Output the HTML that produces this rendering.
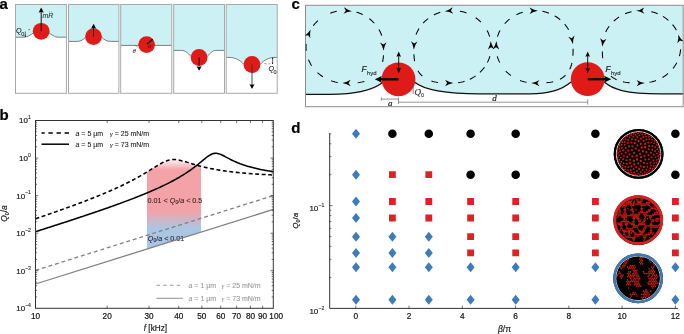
<!DOCTYPE html>
<html><head><meta charset="utf-8"><style>
html,body{margin:0;padding:0;background:#fff;width:684px;height:334px;overflow:hidden}
svg{display:block;will-change:transform}
text{font-family:"Liberation Sans", sans-serif}
</style></head><body>
<svg width="684" height="334" viewBox="0 0 684 334">
<rect width="684" height="334" fill="#fff"/>
<text x="-0.60" y="8.90" font-size="15.00" fill="#000" font-weight="bold" stroke="#000" stroke-width="0.20">a</text>
<path d="M15.5,37.2 L24,37.2 C28,37.2 31,34.5 33.5,32.8 L49,32.8 C51.5,34.5 54.5,37.2 58,37.2 L66.3,37.2 L66.4,4.5 L15.5,4.5 Z" fill="#ccf1f4"/>
<path d="M15.5,37.2 L24,37.2 C28,37.2 31,34.5 33.5,32.8 L49,32.8 C51.5,34.5 54.5,37.2 58,37.2 L66.3,37.2" fill="none" stroke="#555" stroke-width="0.75"/>
<rect x="15.5" y="4.5" width="50.9" height="88.8" fill="none" stroke="#a8a8a8" stroke-width="1.0"/>
<circle cx="41.2" cy="31.3" r="8.4" fill="#e01b17"/>
<path d="M68.5,41.4 L77,41.4 C80.5,41.4 83,40 85.7,37.2 L101.7,37.2 C104.4,40 107,41.4 110.5,41.4 L118.9,41.4 L118.9,4.5 L68.5,4.5 Z" fill="#ccf1f4"/>
<path d="M68.5,41.4 L77,41.4 C80.5,41.4 83,40 85.7,37.2 L101.7,37.2 C104.4,40 107,41.4 110.5,41.4 L118.9,41.4" fill="none" stroke="#555" stroke-width="0.75"/>
<rect x="68.5" y="4.5" width="50.4" height="88.8" fill="none" stroke="#a8a8a8" stroke-width="1.0"/>
<circle cx="93.5" cy="36.6" r="8.4" fill="#e01b17"/>
<path d="M120.8,45.4 L171.8,45.4 L171.8,4.5 L120.7,4.5 Z" fill="#ccf1f4"/>
<path d="M120.8,45.4 L171.8,45.4" fill="none" stroke="#555" stroke-width="0.75"/>
<rect x="120.7" y="4.5" width="51.1" height="88.8" fill="none" stroke="#a8a8a8" stroke-width="1.0"/>
<circle cx="146.6" cy="44.6" r="8.4" fill="#e01b17"/>
<path d="M173.7,50.4 L181.7,50.4 C185,50.4 188,53 191,56.5 L207.3,56.5 C210.3,53 213,50.4 215.5,50.4 L224.4,50.4 L224.5,4.5 L173.7,4.5 Z" fill="#ccf1f4"/>
<path d="M173.7,50.4 L181.7,50.4 C185,50.4 188,53 191,56.5 L207.3,56.5 C210.3,53 213,50.4 215.5,50.4 L224.4,50.4" fill="none" stroke="#555" stroke-width="0.75"/>
<rect x="173.7" y="4.5" width="50.8" height="88.8" fill="none" stroke="#a8a8a8" stroke-width="1.0"/>
<circle cx="199.1" cy="57.5" r="8.4" fill="#e01b17"/>
<path d="M226.1,57.4 L229,57.4 C235,57.4 240,60 244,64.5 L260,64.5 C264,60 269,57.4 275,57.4 L277.1,57.4 L277.2,4.5 L226.2,4.5 Z" fill="#ccf1f4"/>
<path d="M226.1,57.4 L229,57.4 C235,57.4 240,60 244,64.5 L260,64.5 C264,60 269,57.4 275,57.4 L277.1,57.4" fill="none" stroke="#555" stroke-width="0.75"/>
<rect x="226.2" y="4.5" width="51.0" height="88.8" fill="none" stroke="#a8a8a8" stroke-width="1.0"/>
<circle cx="252.0" cy="64.5" r="8.4" fill="#e01b17"/>
<line x1="41.2" y1="31.3" x2="41.2" y2="11" stroke="#111" stroke-width="1"/>
<path d="M41.20,7.40L43.70,12.60L41.20,12.08L38.70,12.60Z" fill="#000"/>
<text x="42.50" y="18.00" font-size="7.00" fill="#333" font-style="italic" stroke="#333" stroke-width="0.10">mR</text>
<circle cx="49.6" cy="11.9" r="0.45" fill="#333"/><circle cx="51.3" cy="11.9" r="0.45" fill="#333"/>
<text x="15.90" y="32.90" font-size="7.20" fill="#222" font-style="italic" stroke="#222" stroke-width="0.10">Q</text>
<text x="21.20" y="36.30" font-size="5.50" fill="#222"  stroke="#222" stroke-width="0.10">0</text>
<line x1="25.3" y1="31.5" x2="25.3" y2="36.8" stroke="#222" stroke-width="0.7"/>
<path d="M25.30,37.00L24.40,35.20L25.30,35.74L26.20,35.20Z" fill="#000"/>
<line x1="28.3" y1="29.6" x2="30" y2="29.6" stroke="#333" stroke-width="0.6"/>
<line x1="93.5" y1="36.6" x2="93.5" y2="27" stroke="#111" stroke-width="1"/>
<path d="M93.60,23.80L96.10,28.40L93.60,27.94L91.10,28.40Z" fill="#000"/>
<line x1="146.8" y1="44.3" x2="152.6" y2="39.2" stroke="#111" stroke-width="1.4"/>
<text x="148.00" y="48.00" font-size="6.80" fill="#222" font-style="italic" style="font-family:'Liberation Serif',serif" stroke="#222" stroke-width="0.10">a</text>
<text x="132.40" y="53.40" font-size="7.00" fill="#444" font-style="italic" style="font-family:'Liberation Serif',serif" stroke="#444" stroke-width="0.10">θ</text>
<path d="M135,45.4 Q137,45.8 137.6,47.4" fill="none" stroke="#555" stroke-width="0.5"/>
<line x1="199.1" y1="57.5" x2="199.1" y2="66" stroke="#111" stroke-width="1"/>
<path d="M199.10,70.80L196.60,66.20L199.10,66.66L201.60,66.20Z" fill="#000"/>
<line x1="252" y1="64.5" x2="252" y2="85" stroke="#333" stroke-width="0.9"/>
<path d="M252.00,89.00L249.50,84.20L252.00,84.68L254.50,84.20Z" fill="#000"/>
<text x="268.40" y="71.10" font-size="7.20" fill="#222" font-style="italic" stroke="#222" stroke-width="0.10">Q</text>
<text x="273.40" y="74.00" font-size="5.50" fill="#222"  stroke="#222" stroke-width="0.10">0</text>
<line x1="272.6" y1="57.6" x2="272.6" y2="63.8" stroke="#222" stroke-width="0.7"/>
<path d="M272.60,57.60L273.50,59.40L272.60,58.86L271.70,59.40Z" fill="#000"/>
<line x1="264.2" y1="63.7" x2="266.5" y2="63.7" stroke="#555" stroke-width="0.6"/><line x1="268.6" y1="63.8" x2="270.2" y2="63.8" stroke="#555" stroke-width="0.6"/>
<path d="M272.60,64.20L271.70,62.40L272.60,62.94L273.50,62.40Z" fill="#000"/>
<text x="291.40" y="8.70" font-size="15.00" fill="#000" font-weight="bold" stroke="#000" stroke-width="0.20">c</text>
<path d="M305.5,94.4 L330,94.4 C355,94.4 373,90 382.6,82.5 L414.4,82 C424,90 445,93.8 480,93.8 L530,93.8 C552,93.8 563,89 571,82 L604.4,82 C612,89 625,93.8 660,93.8 L683.2,93.8 L683.2,5.3 L305.5,5.3 Z" fill="#ccf1f4"/>
<path d="M305.5,94.4 L330,94.4 C355,94.4 373,90 382.6,82.5 M414.4,82 C424,90 445,93.8 480,93.8 L530,93.8 C552,93.8 563,89 571,82 M604.4,82 C612,89 625,93.8 660,93.8 L683.2,93.8" fill="none" stroke="#111" stroke-width="1.25"/>
<rect x="305.5" y="5.3" width="377.7" height="101.4" fill="none" stroke="#8c8c8c" stroke-width="1"/>
<clipPath id="cclip"><rect x="305.5" y="5.3" width="377.7" height="101.4"/></clipPath>
<g clip-path="url(#cclip)">
<path d="M383.43,55.27 L383.34,56.63 L383.22,57.98 L383.06,59.34 L382.86,60.68 L382.62,62.02M364.35,81.48 L363.03,81.80 L361.70,82.07 L360.36,82.30 L359.01,82.50 L357.66,82.65M337.80,82.50 L336.46,82.25 L335.13,81.96 L333.82,81.61 L332.51,81.23 L331.22,80.80M322.94,76.79 L321.80,76.04 L320.70,75.25 L319.62,74.42 L318.57,73.55 L317.56,72.65M311.62,65.62 L310.90,64.46 L310.23,63.28 L309.60,62.07 L309.02,60.84 L308.49,59.59M306.22,50.68 L306.09,49.33 L306.02,47.97 L306.00,46.61 L306.04,45.25 L306.12,43.89M313.30,25.61 L314.15,24.55 L315.03,23.51 L315.96,22.52 L316.92,21.56 L317.91,20.63M330.25,13.15 L331.53,12.69 L332.82,12.27 L334.13,11.90 L335.45,11.57 L336.78,11.28M356.48,12.18 L357.78,12.59 L359.06,13.04 L360.33,13.53 L361.58,14.07 L362.81,14.65M369.32,18.67 L370.38,19.51 L371.42,20.39 L372.42,21.31 L373.39,22.26 L374.33,23.25M378.86,29.41 L379.52,30.60 L380.14,31.81 L380.71,33.05 L381.23,34.30 L381.70,35.58" fill="none" stroke="#000" stroke-width="1.05"/><path d="M383.58,50.68Q382.67,46.14 380.11,42.49L383.38,44.45L386.51,42.28Q384.20,46.09 383.58,50.68Z" fill="#000"/><path d="M342.36,83.03Q346.93,82.28 350.68,79.86L348.59,83.05L350.65,86.26Q346.93,83.81 342.36,83.03Z" fill="#000"/><path d="M310.73,29.42Q309.62,33.92 310.36,38.31L308.25,35.13L304.49,35.76Q308.21,33.30 310.73,29.42Z" fill="#000"/><path d="M352.00,11.13Q347.39,11.56 343.49,13.70L345.80,10.67L343.97,7.32Q347.51,10.03 352.00,11.13Z" fill="#000"/>
<path d="M438.09,82.46 L436.75,82.27 L435.41,82.03 L434.08,81.75 L432.76,81.42 L431.45,81.04M422.33,76.10 L421.33,75.18 L420.40,74.19 L419.53,73.14 L418.74,72.04 L418.01,70.89M414.60,61.07 L414.39,59.72 L414.22,58.37 L414.09,57.02 L413.99,55.67 L413.91,54.31M416.03,34.67 L416.53,33.41 L417.08,32.16 L417.69,30.94 L418.33,29.75 L419.03,28.58M423.16,23.13 L424.09,22.15 L425.07,21.20 L426.07,20.28 L427.11,19.40 L428.18,18.56M433.97,14.93 L435.19,14.33 L436.43,13.78 L437.69,13.26 L438.97,12.79 L440.26,12.36M459.94,11.18 L461.27,11.45 L462.60,11.76 L463.91,12.11 L465.21,12.51 L466.50,12.96M475.67,17.72 L476.77,18.52 L477.84,19.36 L478.88,20.24 L479.89,21.15 L480.86,22.10M487.02,30.39 L487.64,31.60 L488.22,32.83 L488.75,34.09 L489.23,35.36 L489.66,36.65M489.86,56.28 L489.45,57.58 L489.00,58.86 L488.50,60.12 L487.95,61.37 L487.35,62.59M484.44,67.30 L483.62,68.38 L482.75,69.44 L481.85,70.46 L480.92,71.44 L479.94,72.39M475.65,75.89 L474.52,76.65 L473.37,77.37 L472.19,78.05 L470.99,78.69 L469.77,79.29M464.60,81.28 L463.29,81.66 L461.97,82.00 L460.64,82.29 L459.31,82.53 L457.96,82.74" fill="none" stroke="#000" stroke-width="1.05"/><path d="M453.38,83.09Q448.81,83.82 445.05,86.21L447.15,83.03L445.11,79.81Q448.82,82.28 453.38,83.09Z" fill="#000"/><path d="M413.81,49.71Q413.27,45.11 411.03,41.26L414.12,43.49L417.42,41.58Q414.80,45.19 413.81,49.71Z" fill="#000"/><path d="M444.72,11.24Q449.20,10.07 452.70,7.31L450.92,10.69L453.27,13.69Q449.33,11.60 444.72,11.24Z" fill="#000"/><path d="M490.72,41.12Q491.70,45.65 494.30,49.27L491.01,47.34L487.91,49.56Q490.16,45.72 490.72,41.12Z" fill="#000"/>
<path d="M526.58,82.33 L525.25,82.04 L523.93,81.71 L522.63,81.34 L521.33,80.92 L520.05,80.46M510.90,75.52 L509.81,74.70 L508.75,73.85 L507.73,72.95 L506.74,72.02 L505.78,71.05M499.74,62.59 L499.15,61.37 L498.59,60.13 L498.09,58.86 L497.64,57.58 L497.24,56.28M497.44,36.65 L497.87,35.36 L498.35,34.09 L498.87,32.83 L499.45,31.60 L500.07,30.39M504.68,23.75 L505.59,22.75 L506.54,21.77 L507.53,20.83 L508.54,19.93 L509.59,19.07M516.41,14.73 L517.64,14.15 L518.89,13.60 L520.15,13.10 L521.43,12.64 L522.73,12.23M542.42,11.27 L543.75,11.56 L545.07,11.89 L546.37,12.26 L547.67,12.68 L548.95,13.14M554.65,15.84 L555.82,16.54 L556.96,17.28 L558.07,18.05 L559.16,18.87 L560.22,19.73M564.69,24.18 L565.55,25.23 L566.37,26.31 L567.14,27.43 L567.88,28.57 L568.57,29.74M573.10,48.87 L573.09,50.23 L573.07,51.59 L573.04,52.94 L572.99,54.30 L572.91,55.66M571.94,62.91 L571.62,64.23 L571.24,65.54 L570.81,66.82 L570.31,68.09 L569.74,69.32M565.51,75.25 L564.51,76.18 L563.46,77.03 L562.35,77.82 L561.20,78.55 L560.01,79.20M553.14,81.68 L551.82,81.97 L550.48,82.22 L549.13,82.43 L547.78,82.60 L546.43,82.74" fill="none" stroke="#000" stroke-width="1.05"/><path d="M531.14,82.96Q535.71,82.26 539.48,79.88L537.36,83.05L539.39,86.27Q535.69,83.79 531.14,82.96Z" fill="#000"/><path d="M496.38,41.12Q496.93,45.72 499.19,49.56L496.09,47.34L492.80,49.27Q495.40,45.65 496.38,41.12Z" fill="#000"/><path d="M537.86,10.64Q533.31,11.49 529.63,14.00L531.64,10.76L529.50,7.60Q533.29,9.96 537.86,10.64Z" fill="#000"/><path d="M573.01,44.27Q571.37,39.94 568.26,36.75L571.80,38.16L574.54,35.50Q572.87,39.64 573.01,44.27Z" fill="#000"/>
<path d="M629.62,82.76 L628.27,82.63 L626.92,82.47 L625.57,82.27 L624.23,82.03 L622.90,81.76M616.58,79.68 L615.36,79.08 L614.17,78.42 L613.02,77.70 L611.92,76.90 L610.87,76.04M602.71,58.19 L602.58,56.83 L602.48,55.48 L602.41,54.12 L602.36,52.76 L602.33,51.40M605.70,32.01 L606.32,30.79 L606.98,29.60 L607.68,28.44 L608.43,27.31 L609.22,26.20M613.74,21.17 L614.75,20.26 L615.80,19.39 L616.87,18.56 L617.98,17.76 L619.11,17.01M625.08,13.84 L626.34,13.33 L627.61,12.85 L628.90,12.42 L630.21,12.04 L631.52,11.70M651.25,11.64 L652.57,11.98 L653.87,12.36 L655.17,12.78 L656.45,13.24 L657.71,13.75M662.95,16.41 L664.10,17.14 L665.22,17.90 L666.32,18.70 L667.39,19.54 L668.43,20.42M672.54,24.63 L673.39,25.69 L674.20,26.78 L674.97,27.90 L675.69,29.05 L676.38,30.23M680.60,49.39 L680.47,50.75 L680.28,52.10 L680.04,53.43 L679.75,54.76 L679.40,56.08M676.73,62.72 L676.07,63.91 L675.37,65.07 L674.63,66.21 L673.84,67.32 L673.01,68.39M668.02,73.53 L666.97,74.39 L665.89,75.22 L664.78,76.00 L663.65,76.75 L662.49,77.46M656.02,80.52 L654.73,80.97 L653.43,81.38 L652.12,81.74 L650.80,82.06 L649.47,82.34" fill="none" stroke="#000" stroke-width="1.05"/><path d="M644.92,82.96Q640.36,83.79 636.66,86.28L638.69,83.05L636.57,79.88Q640.34,82.26 644.92,82.96Z" fill="#000"/><path d="M602.30,46.80Q602.10,42.18 600.14,38.17L603.06,40.62L606.50,38.96Q603.62,42.36 602.30,46.80Z" fill="#000"/><path d="M636.04,10.85Q640.58,9.94 644.24,7.40L642.27,10.66L644.44,13.79Q640.63,11.48 636.04,10.85Z" fill="#000"/><path d="M678.34,34.38Q680.22,38.61 683.51,41.62L679.90,40.41L677.32,43.22Q678.74,39.00 678.34,34.38Z" fill="#000"/>
</g>
<circle cx="398.5" cy="79.3" r="16.9" fill="#e01b17"/>
<circle cx="587.7" cy="79.2" r="16.9" fill="#e01b17"/>
<line x1="398.5" y1="79.3" x2="380" y2="79.3" stroke="#000" stroke-width="2.3"/>
<path d="M374.80,79.30L381.80,75.90L380.75,79.30L381.80,82.70Z" fill="#000"/>
<line x1="587.7" y1="79.2" x2="606" y2="79.2" stroke="#000" stroke-width="2.3"/>
<path d="M611.20,79.20L604.20,82.60L605.25,79.20L604.20,75.80Z" fill="#000"/>
<line x1="398.7" y1="55" x2="398.7" y2="70" stroke="#000" stroke-width="0.9"/>
<path d="M398.70,51.60L401.00,56.80L398.70,56.02L396.40,56.80Z" fill="#000"/>
<path d="M398.70,73.20L396.40,68.00L398.70,68.78L401.00,68.00Z" fill="#000"/>
<line x1="587.7" y1="55" x2="587.7" y2="70" stroke="#000" stroke-width="0.9"/>
<path d="M587.70,51.60L590.00,56.80L587.70,56.02L585.40,56.80Z" fill="#000"/>
<path d="M587.70,73.20L585.40,68.00L587.70,68.78L590.00,68.00Z" fill="#000"/>
<path d="M361,65.5h16v10h-16zM605,65.5h16v10h-16z" fill="#ccf1f4"/>
<text x="361.60" y="71.80" font-size="8.30" fill="#222" font-style="italic" stroke="#222" stroke-width="0.20">F</text>
<text x="367.00" y="74.80" font-size="6.00" fill="#222"  stroke="#222" stroke-width="0.10">hyd</text>
<text x="605.40" y="71.80" font-size="8.30" fill="#222" font-style="italic" stroke="#222" stroke-width="0.20">F</text>
<text x="611.00" y="74.80" font-size="6.00" fill="#222"  stroke="#222" stroke-width="0.10">hyd</text>
<line x1="413.2" y1="87" x2="413.2" y2="94" stroke="#555" stroke-width="0.7"/>
<text x="414.40" y="94.60" font-size="9.00" fill="#333" font-style="italic" style="font-family:'Liberation Serif',serif" stroke="#333" stroke-width="0.20">Q</text>
<text x="421.00" y="96.80" font-size="5.50" fill="#333"  stroke="#333" stroke-width="0.10">0</text>
<path d="M381.3,99.1H398.5M381.3,97.4V100.8M398.5,97.6V104M398.5,102.2H587.7M587.7,99.4V104.6" stroke="#7a7a7a" stroke-width="0.8" fill="none"/>
<text x="388.00" y="105.60" font-size="9.00" fill="#222" font-style="italic" style="font-family:'Liberation Serif',serif" stroke="#222" stroke-width="0.20">a</text>
<text x="492.20" y="100.80" font-size="9.00" fill="#222" font-style="italic" style="font-family:'Liberation Serif',serif" stroke="#222" stroke-width="0.20">d</text>
<text x="-0.50" y="119.60" font-size="15.00" fill="#000" font-weight="bold" stroke="#000" stroke-width="0.20">b</text>
<defs><linearGradient id="sh" gradientUnits="userSpaceOnUse" x1="0" y1="158" x2="0" y2="249"><stop offset="0" stop-color="#ffffff"/><stop offset="0.13" stop-color="#f3a2a6"/><stop offset="0.58" stop-color="#f3a3a7"/><stop offset="0.77" stop-color="#abc6e2"/><stop offset="1" stop-color="#a8c6e3"/></linearGradient><clipPath id="shclip"><path d="M35.50,218.75 L36.50,218.41 L37.50,218.07 L38.50,217.73 L39.50,217.39 L40.50,217.05 L41.50,216.71 L42.50,216.36 L43.50,216.02 L44.50,215.68 L45.50,215.33 L46.50,214.99 L47.50,214.64 L48.50,214.30 L49.50,213.95 L50.50,213.61 L51.50,213.26 L52.50,212.91 L53.50,212.56 L54.50,212.21 L55.50,211.86 L56.50,211.51 L57.50,211.16 L58.50,210.81 L59.50,210.45 L60.50,210.10 L61.50,209.74 L62.50,209.39 L63.50,209.03 L64.50,208.67 L65.50,208.32 L66.50,207.96 L67.50,207.60 L68.50,207.24 L69.50,206.87 L70.50,206.51 L71.50,206.15 L72.50,205.78 L73.50,205.41 L74.50,205.05 L75.50,204.68 L76.50,204.31 L77.50,203.94 L78.50,203.56 L79.50,203.19 L80.50,202.81 L81.50,202.44 L82.50,202.06 L83.50,201.68 L84.50,201.30 L85.50,200.92 L86.50,200.53 L87.50,200.15 L88.50,199.76 L89.50,199.37 L90.50,198.98 L91.50,198.59 L92.50,198.20 L93.50,197.80 L94.50,197.40 L95.50,197.01 L96.50,196.60 L97.50,196.20 L98.50,195.80 L99.50,195.39 L100.50,194.98 L101.50,194.57 L102.50,194.15 L103.50,193.73 L104.50,193.32 L105.50,192.89 L106.50,192.47 L107.50,192.04 L108.50,191.61 L109.50,191.18 L110.50,190.74 L111.50,190.31 L112.50,189.86 L113.50,189.42 L114.50,188.97 L115.50,188.52 L116.50,188.07 L117.50,187.61 L118.50,187.15 L119.50,186.68 L120.50,186.21 L121.50,185.74 L122.50,185.26 L123.50,184.78 L124.50,184.29 L125.50,183.80 L126.50,183.31 L127.50,182.81 L128.50,182.30 L129.50,181.79 L130.50,181.28 L131.50,180.76 L132.50,180.23 L133.50,179.70 L134.50,179.17 L135.50,178.63 L136.50,178.08 L137.50,177.53 L138.50,176.97 L139.50,176.40 L140.50,175.83 L141.50,175.26 L142.50,174.67 L143.50,174.09 L144.50,173.49 L145.50,172.89 L146.50,172.29 L147.50,171.68 L148.50,171.07 L149.50,170.45 L150.50,169.83 L151.50,169.21 L152.50,168.58 L153.50,167.96 L154.50,167.34 L155.50,166.72 L156.50,166.10 L157.50,165.50 L158.50,164.90 L159.50,164.32 L160.50,163.75 L161.50,163.20 L162.50,162.68 L163.50,162.18 L164.50,161.72 L165.50,161.29 L166.50,160.91 L167.50,160.56 L168.50,160.27 L169.50,160.02 L170.50,159.83 L171.50,159.68 L172.50,159.59 L173.50,159.55 L174.50,159.55 L175.50,159.60 L176.50,159.70 L177.50,159.83 L178.50,159.99 L179.50,160.19 L180.50,160.41 L181.50,160.65 L182.50,160.91 L183.50,161.19 L184.50,161.47 L185.50,161.77 L186.50,162.07 L187.50,162.38 L188.50,162.69 L189.50,162.99 L190.50,163.30 L191.50,163.61 L192.50,163.91 L193.50,164.21 L194.50,164.51 L195.50,164.80 L196.50,165.08 L197.50,165.36 L198.50,165.64 L199.50,165.91 L200.50,166.17 L201.50,166.43 L202.50,166.68 L203.50,166.93 L204.50,167.17 L205.50,167.40 L206.50,167.63 L207.50,167.85 L208.50,168.07 L209.50,168.28 L210.50,168.49 L211.50,168.69 L212.50,168.88 L213.50,169.07 L214.50,169.26 L215.50,169.44 L216.50,169.62 L217.50,169.79 L218.50,169.96 L219.50,170.12 L220.50,170.28 L221.50,170.44 L222.50,170.59 L223.50,170.74 L224.50,170.88 L225.50,171.02 L226.50,171.16 L227.50,171.30 L228.50,171.43 L229.50,171.55 L230.50,171.68 L231.50,171.80 L232.50,171.92 L233.50,172.03 L234.50,172.14 L235.50,172.25 L236.50,172.36 L237.50,172.47 L238.50,172.57 L239.50,172.67 L240.50,172.77 L241.50,172.86 L242.50,172.95 L243.50,173.05 L244.50,173.13 L245.50,173.22 L246.50,173.30 L247.50,173.39 L248.50,173.47 L249.50,173.55 L250.50,173.62 L251.50,173.70 L252.50,173.77 L253.50,173.85 L254.50,173.92 L255.50,173.98 L256.50,174.05 L257.50,174.12 L258.50,174.18 L259.50,174.24 L260.50,174.31 L261.50,174.37 L262.50,174.42 L263.50,174.48 L264.50,174.54 L265.50,174.59 L266.50,174.65 L267.50,174.70 L268.50,174.75 L269.50,174.80 L270.50,174.85 L271.50,174.90 L272.50,174.95 L273.30,174.98 L273.3,320 L35.5,320 Z"/></clipPath></defs>
<path clip-path="url(#shclip)" d="M147.0,150 L201.0,150 L201.0,232.08 L147.0,249.02 Z" fill="url(#sh)"/>
<text x="147.6" y="202.6" font-size="7.2" fill="#3a2222" stroke="#3a2222" stroke-width="0.10">0.01 &lt; <tspan font-style="italic">Q</tspan><tspan font-size="5" dy="1.5">0</tspan><tspan dy="-1.5">/</tspan><tspan font-style="italic">a</tspan> &lt; 0.5</text>
<text x="147.8" y="240.6" font-size="7.2" fill="#1c2232" stroke="#1c2232" stroke-width="0.10"><tspan font-style="italic">Q</tspan><tspan font-size="5" dy="1.5">0</tspan><tspan dy="-1.5">/</tspan><tspan font-style="italic">a</tspan> &lt; 0.01</text>
<path d="M35.50,218.75 L36.50,218.41 L37.50,218.07 L38.50,217.73 L39.50,217.39 L40.50,217.05 L41.50,216.71 L42.50,216.36 L43.50,216.02 L44.50,215.68 L45.50,215.33 L46.50,214.99 L47.50,214.64 L48.50,214.30 L49.50,213.95 L50.50,213.61 L51.50,213.26 L52.50,212.91 L53.50,212.56 L54.50,212.21 L55.50,211.86 L56.50,211.51 L57.50,211.16 L58.50,210.81 L59.50,210.45 L60.50,210.10 L61.50,209.74 L62.50,209.39 L63.50,209.03 L64.50,208.67 L65.50,208.32 L66.50,207.96 L67.50,207.60 L68.50,207.24 L69.50,206.87 L70.50,206.51 L71.50,206.15 L72.50,205.78 L73.50,205.41 L74.50,205.05 L75.50,204.68 L76.50,204.31 L77.50,203.94 L78.50,203.56 L79.50,203.19 L80.50,202.81 L81.50,202.44 L82.50,202.06 L83.50,201.68 L84.50,201.30 L85.50,200.92 L86.50,200.53 L87.50,200.15 L88.50,199.76 L89.50,199.37 L90.50,198.98 L91.50,198.59 L92.50,198.20 L93.50,197.80 L94.50,197.40 L95.50,197.01 L96.50,196.60 L97.50,196.20 L98.50,195.80 L99.50,195.39 L100.50,194.98 L101.50,194.57 L102.50,194.15 L103.50,193.73 L104.50,193.32 L105.50,192.89 L106.50,192.47 L107.50,192.04 L108.50,191.61 L109.50,191.18 L110.50,190.74 L111.50,190.31 L112.50,189.86 L113.50,189.42 L114.50,188.97 L115.50,188.52 L116.50,188.07 L117.50,187.61 L118.50,187.15 L119.50,186.68 L120.50,186.21 L121.50,185.74 L122.50,185.26 L123.50,184.78 L124.50,184.29 L125.50,183.80 L126.50,183.31 L127.50,182.81 L128.50,182.30 L129.50,181.79 L130.50,181.28 L131.50,180.76 L132.50,180.23 L133.50,179.70 L134.50,179.17 L135.50,178.63 L136.50,178.08 L137.50,177.53 L138.50,176.97 L139.50,176.40 L140.50,175.83 L141.50,175.26 L142.50,174.67 L143.50,174.09 L144.50,173.49 L145.50,172.89 L146.50,172.29 L147.50,171.68 L148.50,171.07 L149.50,170.45 L150.50,169.83 L151.50,169.21 L152.50,168.58 L153.50,167.96 L154.50,167.34 L155.50,166.72 L156.50,166.10 L157.50,165.50 L158.50,164.90 L159.50,164.32 L160.50,163.75 L161.50,163.20 L162.50,162.68 L163.50,162.18 L164.50,161.72 L165.50,161.29 L166.50,160.91 L167.50,160.56 L168.50,160.27 L169.50,160.02 L170.50,159.83 L171.50,159.68 L172.50,159.59 L173.50,159.55 L174.50,159.55 L175.50,159.60 L176.50,159.70 L177.50,159.83 L178.50,159.99 L179.50,160.19 L180.50,160.41 L181.50,160.65 L182.50,160.91 L183.50,161.19 L184.50,161.47 L185.50,161.77 L186.50,162.07 L187.50,162.38 L188.50,162.69 L189.50,162.99 L190.50,163.30 L191.50,163.61 L192.50,163.91 L193.50,164.21 L194.50,164.51 L195.50,164.80 L196.50,165.08 L197.50,165.36 L198.50,165.64 L199.50,165.91 L200.50,166.17 L201.50,166.43 L202.50,166.68 L203.50,166.93 L204.50,167.17 L205.50,167.40 L206.50,167.63 L207.50,167.85 L208.50,168.07 L209.50,168.28 L210.50,168.49 L211.50,168.69 L212.50,168.88 L213.50,169.07 L214.50,169.26 L215.50,169.44 L216.50,169.62 L217.50,169.79 L218.50,169.96 L219.50,170.12 L220.50,170.28 L221.50,170.44 L222.50,170.59 L223.50,170.74 L224.50,170.88 L225.50,171.02 L226.50,171.16 L227.50,171.30 L228.50,171.43 L229.50,171.55 L230.50,171.68 L231.50,171.80 L232.50,171.92 L233.50,172.03 L234.50,172.14 L235.50,172.25 L236.50,172.36 L237.50,172.47 L238.50,172.57 L239.50,172.67 L240.50,172.77 L241.50,172.86 L242.50,172.95 L243.50,173.05 L244.50,173.13 L245.50,173.22 L246.50,173.30 L247.50,173.39 L248.50,173.47 L249.50,173.55 L250.50,173.62 L251.50,173.70 L252.50,173.77 L253.50,173.85 L254.50,173.92 L255.50,173.98 L256.50,174.05 L257.50,174.12 L258.50,174.18 L259.50,174.24 L260.50,174.31 L261.50,174.37 L262.50,174.42 L263.50,174.48 L264.50,174.54 L265.50,174.59 L266.50,174.65 L267.50,174.70 L268.50,174.75 L269.50,174.80 L270.50,174.85 L271.50,174.90 L272.50,174.95 L273.30,174.98" fill="none" stroke="#000" stroke-width="1.55" stroke-dasharray="3.9,2.6"/>
<path d="M35.50,231.69 L36.50,231.37 L37.50,231.05 L38.50,230.73 L39.50,230.42 L40.50,230.10 L41.50,229.78 L42.50,229.46 L43.50,229.14 L44.50,228.82 L45.50,228.50 L46.50,228.18 L47.50,227.86 L48.50,227.54 L49.50,227.22 L50.50,226.90 L51.50,226.58 L52.50,226.26 L53.50,225.93 L54.50,225.61 L55.50,225.29 L56.50,224.97 L57.50,224.64 L58.50,224.32 L59.50,224.00 L60.50,223.67 L61.50,223.35 L62.50,223.02 L63.50,222.70 L64.50,222.37 L65.50,222.05 L66.50,221.72 L67.50,221.39 L68.50,221.07 L69.50,220.74 L70.50,220.41 L71.50,220.08 L72.50,219.76 L73.50,219.43 L74.50,219.10 L75.50,218.77 L76.50,218.44 L77.50,218.11 L78.50,217.78 L79.50,217.44 L80.50,217.11 L81.50,216.78 L82.50,216.45 L83.50,216.11 L84.50,215.78 L85.50,215.44 L86.50,215.11 L87.50,214.77 L88.50,214.43 L89.50,214.10 L90.50,213.76 L91.50,213.42 L92.50,213.08 L93.50,212.74 L94.50,212.40 L95.50,212.06 L96.50,211.72 L97.50,211.37 L98.50,211.03 L99.50,210.69 L100.50,210.34 L101.50,210.00 L102.50,209.65 L103.50,209.30 L104.50,208.95 L105.50,208.60 L106.50,208.25 L107.50,207.90 L108.50,207.55 L109.50,207.20 L110.50,206.84 L111.50,206.49 L112.50,206.13 L113.50,205.77 L114.50,205.42 L115.50,205.06 L116.50,204.69 L117.50,204.33 L118.50,203.97 L119.50,203.61 L120.50,203.24 L121.50,202.87 L122.50,202.50 L123.50,202.13 L124.50,201.76 L125.50,201.39 L126.50,201.02 L127.50,200.64 L128.50,200.26 L129.50,199.88 L130.50,199.50 L131.50,199.12 L132.50,198.74 L133.50,198.35 L134.50,197.96 L135.50,197.57 L136.50,197.18 L137.50,196.79 L138.50,196.39 L139.50,195.99 L140.50,195.59 L141.50,195.19 L142.50,194.78 L143.50,194.38 L144.50,193.97 L145.50,193.55 L146.50,193.14 L147.50,192.72 L148.50,192.30 L149.50,191.87 L150.50,191.45 L151.50,191.02 L152.50,190.58 L153.50,190.15 L154.50,189.71 L155.50,189.26 L156.50,188.82 L157.50,188.37 L158.50,187.91 L159.50,187.45 L160.50,186.99 L161.50,186.52 L162.50,186.05 L163.50,185.57 L164.50,185.09 L165.50,184.60 L166.50,184.11 L167.50,183.61 L168.50,183.11 L169.50,182.60 L170.50,182.08 L171.50,181.56 L172.50,181.04 L173.50,180.50 L174.50,179.96 L175.50,179.41 L176.50,178.85 L177.50,178.29 L178.50,177.72 L179.50,177.13 L180.50,176.54 L181.50,175.94 L182.50,175.33 L183.50,174.71 L184.50,174.08 L185.50,173.44 L186.50,172.79 L187.50,172.13 L188.50,171.45 L189.50,170.76 L190.50,170.06 L191.50,169.35 L192.50,168.62 L193.50,167.88 L194.50,167.13 L195.50,166.36 L196.50,165.58 L197.50,164.79 L198.50,163.98 L199.50,163.17 L200.50,162.34 L201.50,161.51 L202.50,160.68 L203.50,159.85 L204.50,159.03 L205.50,158.22 L206.50,157.43 L207.50,156.68 L208.50,155.97 L209.50,155.32 L210.50,154.74 L211.50,154.25 L212.50,153.85 L213.50,153.55 L214.50,153.37 L215.50,153.30 L216.50,153.33 L217.50,153.47 L218.50,153.70 L219.50,154.01 L220.50,154.39 L221.50,154.81 L222.50,155.28 L223.50,155.78 L224.50,156.29 L225.50,156.82 L226.50,157.35 L227.50,157.88 L228.50,158.41 L229.50,158.93 L230.50,159.44 L231.50,159.94 L232.50,160.43 L233.50,160.91 L234.50,161.37 L235.50,161.82 L236.50,162.25 L237.50,162.68 L238.50,163.08 L239.50,163.48 L240.50,163.86 L241.50,164.23 L242.50,164.59 L243.50,164.94 L244.50,165.28 L245.50,165.60 L246.50,165.92 L247.50,166.23 L248.50,166.52 L249.50,166.81 L250.50,167.09 L251.50,167.36 L252.50,167.62 L253.50,167.87 L254.50,168.12 L255.50,168.36 L256.50,168.59 L257.50,168.82 L258.50,169.03 L259.50,169.25 L260.50,169.45 L261.50,169.66 L262.50,169.85 L263.50,170.04 L264.50,170.23 L265.50,170.41 L266.50,170.58 L267.50,170.75 L268.50,170.92 L269.50,171.08 L270.50,171.24 L271.50,171.39 L272.50,171.54 L273.30,171.66" fill="none" stroke="#000" stroke-width="1.55"/>
<line x1="35.5" y1="270.4" x2="273.3" y2="195.6" stroke="#808080" stroke-width="1.3" stroke-dasharray="3.9,2.9"/>
<line x1="35.5" y1="284.0" x2="273.3" y2="209.4" stroke="#808080" stroke-width="1.3"/>
<rect x="35.5" y="120.5" width="237.8" height="187.8" fill="none" stroke="#333" stroke-width="1"/>
<path d="M107.15,308.3v-2.6M107.15,120.5v2.6M149.05,308.3v-2.6M149.05,120.5v2.6M178.79,308.3v-2.6M178.79,120.5v2.6M201.85,308.3v-2.6M201.85,120.5v2.6M220.70,308.3v-2.6M220.70,120.5v2.6M236.63,308.3v-2.6M236.63,120.5v2.6M250.44,308.3v-2.6M250.44,120.5v2.6M262.61,308.3v-2.6M262.61,120.5v2.6M35.5,296.99h1.6M273.3,296.99h-1.6M35.5,290.38h1.6M273.3,290.38h-1.6M35.5,285.69h1.6M273.3,285.69h-1.6M35.5,282.05h1.6M273.3,282.05h-1.6M35.5,279.07h1.6M273.3,279.07h-1.6M35.5,276.56h1.6M273.3,276.56h-1.6M35.5,274.38h1.6M273.3,274.38h-1.6M35.5,272.46h1.6M273.3,272.46h-1.6M35.5,259.43h1.6M273.3,259.43h-1.6M35.5,252.82h1.6M273.3,252.82h-1.6M35.5,248.13h1.6M273.3,248.13h-1.6M35.5,244.49h1.6M273.3,244.49h-1.6M35.5,241.51h1.6M273.3,241.51h-1.6M35.5,239.00h1.6M273.3,239.00h-1.6M35.5,236.82h1.6M273.3,236.82h-1.6M35.5,234.90h1.6M273.3,234.90h-1.6M35.5,221.87h1.6M273.3,221.87h-1.6M35.5,215.26h1.6M273.3,215.26h-1.6M35.5,210.57h1.6M273.3,210.57h-1.6M35.5,206.93h1.6M273.3,206.93h-1.6M35.5,203.95h1.6M273.3,203.95h-1.6M35.5,201.44h1.6M273.3,201.44h-1.6M35.5,199.26h1.6M273.3,199.26h-1.6M35.5,197.34h1.6M273.3,197.34h-1.6M35.5,184.31h1.6M273.3,184.31h-1.6M35.5,177.70h1.6M273.3,177.70h-1.6M35.5,173.01h1.6M273.3,173.01h-1.6M35.5,169.37h1.6M273.3,169.37h-1.6M35.5,166.39h1.6M273.3,166.39h-1.6M35.5,163.88h1.6M273.3,163.88h-1.6M35.5,161.70h1.6M273.3,161.70h-1.6M35.5,159.78h1.6M273.3,159.78h-1.6M35.5,146.75h1.6M273.3,146.75h-1.6M35.5,140.14h1.6M273.3,140.14h-1.6M35.5,135.45h1.6M273.3,135.45h-1.6M35.5,131.81h1.6M273.3,131.81h-1.6M35.5,128.83h1.6M273.3,128.83h-1.6M35.5,126.32h1.6M273.3,126.32h-1.6M35.5,124.14h1.6M273.3,124.14h-1.6M35.5,122.22h1.6M273.3,122.22h-1.6M35.5,270.74h2.8M273.3,270.74h-2.8M35.5,233.18h2.8M273.3,233.18h-2.8M35.5,195.62h2.8M273.3,195.62h-2.8M35.5,158.06h2.8M273.3,158.06h-2.8" stroke="#333" stroke-width="0.7" fill="none"/>
<text x="35.50" y="318.80" font-size="8.20" fill="#111" text-anchor="middle"  stroke="#111" stroke-width="0.20">10</text>
<text x="107.15" y="318.80" font-size="8.20" fill="#111" text-anchor="middle"  stroke="#111" stroke-width="0.20">20</text>
<text x="149.05" y="318.80" font-size="8.20" fill="#111" text-anchor="middle"  stroke="#111" stroke-width="0.20">30</text>
<text x="178.79" y="318.80" font-size="8.20" fill="#111" text-anchor="middle"  stroke="#111" stroke-width="0.20">40</text>
<text x="201.85" y="318.80" font-size="8.20" fill="#111" text-anchor="middle"  stroke="#111" stroke-width="0.20">50</text>
<text x="220.70" y="318.80" font-size="8.20" fill="#111" text-anchor="middle"  stroke="#111" stroke-width="0.20">60</text>
<text x="236.63" y="318.80" font-size="8.20" fill="#111" text-anchor="middle"  stroke="#111" stroke-width="0.20">70</text>
<text x="250.44" y="318.80" font-size="8.20" fill="#111" text-anchor="middle"  stroke="#111" stroke-width="0.20">80</text>
<text x="262.61" y="318.80" font-size="8.20" fill="#111" text-anchor="middle"  stroke="#111" stroke-width="0.20">90</text>
<text x="276.20" y="318.80" font-size="8.20" fill="#111" text-anchor="middle"  stroke="#111" stroke-width="0.20">100</text>
<text x="143.8" y="331.3" font-size="8.2" fill="#222" stroke="#222" stroke-width="0.20"><tspan font-style="italic">f</tspan> [kHz]</text>
<text x="28.00" y="123.40" font-size="8.00" fill="#222" text-anchor="end"  stroke="#222" stroke-width="0.20">10</text>
<text x="31.00" y="119.30" font-size="5.20" fill="#222" text-anchor="end"  stroke="#222" stroke-width="0.10">1</text>
<text x="28.00" y="160.96" font-size="8.00" fill="#222" text-anchor="end"  stroke="#222" stroke-width="0.20">10</text>
<text x="31.00" y="156.86" font-size="5.20" fill="#222" text-anchor="end"  stroke="#222" stroke-width="0.10">0</text>
<text x="25.20" y="198.52" font-size="8.00" fill="#222" text-anchor="end"  stroke="#222" stroke-width="0.20">10</text>
<text x="31.00" y="194.42" font-size="5.20" fill="#222" text-anchor="end"  stroke="#222" stroke-width="0.10">−1</text>
<text x="25.20" y="236.08" font-size="8.00" fill="#222" text-anchor="end"  stroke="#222" stroke-width="0.20">10</text>
<text x="31.00" y="231.98" font-size="5.20" fill="#222" text-anchor="end"  stroke="#222" stroke-width="0.10">−2</text>
<text x="25.20" y="273.64" font-size="8.00" fill="#222" text-anchor="end"  stroke="#222" stroke-width="0.20">10</text>
<text x="31.00" y="269.54" font-size="5.20" fill="#222" text-anchor="end"  stroke="#222" stroke-width="0.10">−3</text>
<text x="25.20" y="311.20" font-size="8.00" fill="#222" text-anchor="end"  stroke="#222" stroke-width="0.20">10</text>
<text x="31.00" y="307.10" font-size="5.20" fill="#222" text-anchor="end"  stroke="#222" stroke-width="0.10">−4</text>
<text transform="translate(7.4,221.8) rotate(-90)" font-size="8.3" fill="#222" stroke="#222" stroke-width="0.20"><tspan font-style="italic">Q</tspan><tspan font-size="5.5" dy="1.8">0</tspan><tspan dy="-1.8">/</tspan><tspan font-style="italic">a</tspan></text>
<line x1="41.5" y1="133" x2="69" y2="133" stroke="#000" stroke-width="1.5" stroke-dasharray="4.4,3.7" stroke-dashoffset="1.2"/>
<line x1="41.5" y1="144.2" x2="69" y2="144.2" stroke="#000" stroke-width="1.5"/>
<text x="75.5" y="135.5" font-size="7" fill="#222" stroke="#222" stroke-width="0.10"><tspan font-style="italic">a</tspan> = 5 µm</text>
<text x="110" y="135.5" font-size="7" fill="#222" stroke="#222" stroke-width="0.10"><tspan font-style="italic" style="font-family:'Liberation Serif',serif">γ</tspan> = 25 mN/m</text>
<text x="75.5" y="146.7" font-size="7" fill="#222" stroke="#222" stroke-width="0.10"><tspan font-style="italic">a</tspan> = 5 µm</text>
<text x="110" y="146.7" font-size="7" fill="#222" stroke="#222" stroke-width="0.10"><tspan font-style="italic" style="font-family:'Liberation Serif',serif">γ</tspan> = 73 mN/m</text>
<line x1="156.4" y1="285.3" x2="182.8" y2="285.3" stroke="#999" stroke-width="1.1" stroke-dasharray="3.5,3.3"/>
<line x1="156.4" y1="298.3" x2="182.8" y2="298.3" stroke="#999" stroke-width="1.1"/>
<text x="188.5" y="287.8" font-size="7" fill="#999" stroke="#999" stroke-width="0.10"><tspan font-style="italic">a</tspan> = 1 µm</text>
<text x="221.5" y="287.8" font-size="7" fill="#999" stroke="#999" stroke-width="0.10"><tspan font-style="italic" style="font-family:'Liberation Serif',serif">γ</tspan> = 25 mN/m</text>
<text x="188.5" y="300.8" font-size="7" fill="#999" stroke="#999" stroke-width="0.10"><tspan font-style="italic">a</tspan> = 1 µm</text>
<text x="221.5" y="300.8" font-size="7" fill="#999" stroke="#999" stroke-width="0.10"><tspan font-style="italic" style="font-family:'Liberation Serif',serif">γ</tspan> = 73 mN/m</text>
<text x="291.30" y="133.40" font-size="15.00" fill="#000" font-weight="bold" stroke="#000" stroke-width="0.20">d</text>
<path d="M329.7,133.2 V308.4 H678.0" fill="none" stroke="#333" stroke-width="1"/>
<path d="M329.7,277.38h1.6M329.7,259.30h1.6M329.7,246.47h1.6M329.7,236.52h1.6M329.7,228.38h1.6M329.7,221.51h1.6M329.7,215.55h1.6M329.7,210.30h1.6M329.7,174.68h1.6M329.7,156.60h1.6M329.7,143.77h1.6M329.7,133.82h1.6M329.7,205.60h2.8M355.80,308.4v-2.8M409.06,308.4v-2.8M462.32,308.4v-2.8M515.58,308.4v-2.8M568.84,308.4v-2.8M622.10,308.4v-2.8M675.36,308.4v-2.8" stroke="#333" stroke-width="0.7" fill="none"/>
<text x="355.80" y="318.90" font-size="8.30" fill="#111" text-anchor="middle"  stroke="#111" stroke-width="0.20">0</text>
<text x="409.06" y="318.90" font-size="8.30" fill="#111" text-anchor="middle"  stroke="#111" stroke-width="0.20">2</text>
<text x="462.32" y="318.90" font-size="8.30" fill="#111" text-anchor="middle"  stroke="#111" stroke-width="0.20">4</text>
<text x="515.58" y="318.90" font-size="8.30" fill="#111" text-anchor="middle"  stroke="#111" stroke-width="0.20">6</text>
<text x="568.84" y="318.90" font-size="8.30" fill="#111" text-anchor="middle"  stroke="#111" stroke-width="0.20">8</text>
<text x="622.10" y="318.90" font-size="8.30" fill="#111" text-anchor="middle"  stroke="#111" stroke-width="0.20">10</text>
<text x="675.36" y="318.90" font-size="8.30" fill="#111" text-anchor="middle"  stroke="#111" stroke-width="0.20">12</text>
<text x="498" y="332.4" font-size="8.5" fill="#222" font-family="'Liberation Serif', serif" stroke="#222" stroke-width="0.20"><tspan font-style="italic">β</tspan>/π</text>
<text x="318.30" y="210.90" font-size="8.00" fill="#222" text-anchor="end"  stroke="#222" stroke-width="0.20">10</text>
<text x="324.50" y="206.80" font-size="5.20" fill="#222" text-anchor="end"  stroke="#222" stroke-width="0.10">−1</text>
<text x="318.30" y="313.60" font-size="8.00" fill="#222" text-anchor="end"  stroke="#222" stroke-width="0.20">10</text>
<text x="324.50" y="309.50" font-size="5.20" fill="#222" text-anchor="end"  stroke="#222" stroke-width="0.10">−2</text>
<text transform="translate(298.3,228.8) rotate(-90)" font-size="8" fill="#222" stroke="#222" stroke-width="0.20"><tspan font-style="italic">Q</tspan><tspan font-size="5.5" dy="1.8">0</tspan><tspan dy="-1.8">/</tspan><tspan font-style="italic">a</tspan></text>
<path d="M356.0,128.8l4,5l-4,5l-4,-5zM356.0,169.7l4,5l-4,5l-4,-5zM356.0,196.5l4,5l-4,5l-4,-5zM356.0,213.0l4,5l-4,5l-4,-5zM356.0,231.7l4,5l-4,5l-4,-5zM356.0,247.9l4,5l-4,5l-4,-5zM356.0,262.3l4,5l-4,5l-4,-5zM356.0,294.7l4,5l-4,5l-4,-5zM392.4,231.7l4,5l-4,5l-4,-5zM392.4,247.9l4,5l-4,5l-4,-5zM392.4,262.3l4,5l-4,5l-4,-5zM392.4,294.7l4,5l-4,5l-4,-5zM428.8,231.7l4,5l-4,5l-4,-5zM428.8,247.9l4,5l-4,5l-4,-5zM428.8,262.3l4,5l-4,5l-4,-5zM428.8,294.7l4,5l-4,5l-4,-5zM470.6,262.3l4,5l-4,5l-4,-5zM470.6,294.7l4,5l-4,5l-4,-5zM515.7,262.3l4,5l-4,5l-4,-5zM515.7,294.7l4,5l-4,5l-4,-5zM595.4,262.3l4,5l-4,5l-4,-5zM595.4,294.7l4,5l-4,5l-4,-5zM675.4,262.3l4,5l-4,5l-4,-5zM675.4,294.7l4,5l-4,5l-4,-5z" fill="#3c7cba"/>
<path d="M389.0,171.3h6.8v6.8h-6.8zM389.0,198.1h6.8v6.8h-6.8zM389.0,214.6h6.8v6.8h-6.8zM425.4,171.3h6.8v6.8h-6.8zM425.4,198.1h6.8v6.8h-6.8zM425.4,214.6h6.8v6.8h-6.8zM467.2,198.1h6.8v6.8h-6.8zM467.2,214.6h6.8v6.8h-6.8zM467.2,233.3h6.8v6.8h-6.8zM467.2,249.5h6.8v6.8h-6.8zM512.3,198.1h6.8v6.8h-6.8zM512.3,214.6h6.8v6.8h-6.8zM512.3,233.3h6.8v6.8h-6.8zM512.3,249.5h6.8v6.8h-6.8zM592.0,198.1h6.8v6.8h-6.8zM592.0,214.6h6.8v6.8h-6.8zM592.0,233.3h6.8v6.8h-6.8zM592.0,249.5h6.8v6.8h-6.8zM672.0,198.1h6.8v6.8h-6.8zM672.0,214.6h6.8v6.8h-6.8zM672.0,233.3h6.8v6.8h-6.8zM672.0,249.5h6.8v6.8h-6.8z" fill="#dc2222"/>
<path d="M392.4,133.8m-4.3,0a4.3,4.3 0 1,0 8.6,0a4.3,4.3 0 1,0 -8.6,0M428.8,133.8m-4.3,0a4.3,4.3 0 1,0 8.6,0a4.3,4.3 0 1,0 -8.6,0M470.6,133.8m-4.3,0a4.3,4.3 0 1,0 8.6,0a4.3,4.3 0 1,0 -8.6,0M470.6,174.7m-4.3,0a4.3,4.3 0 1,0 8.6,0a4.3,4.3 0 1,0 -8.6,0M515.7,133.8m-4.3,0a4.3,4.3 0 1,0 8.6,0a4.3,4.3 0 1,0 -8.6,0M515.7,174.7m-4.3,0a4.3,4.3 0 1,0 8.6,0a4.3,4.3 0 1,0 -8.6,0M595.4,133.8m-4.3,0a4.3,4.3 0 1,0 8.6,0a4.3,4.3 0 1,0 -8.6,0M595.4,174.7m-4.3,0a4.3,4.3 0 1,0 8.6,0a4.3,4.3 0 1,0 -8.6,0M675.4,133.8m-4.3,0a4.3,4.3 0 1,0 8.6,0a4.3,4.3 0 1,0 -8.6,0M675.4,174.7m-4.3,0a4.3,4.3 0 1,0 8.6,0a4.3,4.3 0 1,0 -8.6,0" fill="#000"/>
<defs><pattern id="dp" patternUnits="userSpaceOnUse" width="2.0" height="3.464" x="0" y="0"><rect width="2.0" height="3.464" fill="#000"/><circle cx="0" cy="0" r="0.8" fill="#d42014"/><circle cx="2" cy="0" r="0.8" fill="#d42014"/><circle cx="1" cy="1.732" r="0.8" fill="#d42014"/><circle cx="0" cy="3.464" r="0.8" fill="#d42014"/><circle cx="2" cy="3.464" r="0.8" fill="#d42014"/></pattern></defs>
<circle cx="638.6" cy="153.9" r="24.9" fill="#000"/>
<path d="M640.17,153.90m-1.15,0a1.15,1.15 0 1,0 2.30,0a1.15,1.15 0 1,0 -2.30,0M636.60,155.73m-1.15,0a1.15,1.15 0 1,0 2.29,0a1.15,1.15 0 1,0 -2.29,0M638.91,150.42m-1.14,0a1.14,1.14 0 1,0 2.29,0a1.14,1.14 0 1,0 -2.29,0M641.11,157.18m-1.14,0a1.14,1.14 0 1,0 2.28,0a1.14,1.14 0 1,0 -2.28,0M633.99,153.09m-1.14,0a1.14,1.14 0 1,0 2.28,0a1.14,1.14 0 1,0 -2.28,0M642.96,151.13m-1.14,0a1.14,1.14 0 1,0 2.27,0a1.14,1.14 0 1,0 -2.27,0M637.14,159.31m-1.14,0a1.14,1.14 0 1,0 2.27,0a1.14,1.14 0 1,0 -2.27,0M635.83,148.56m-1.13,0a1.13,1.13 0 1,0 2.27,0a1.13,1.13 0 1,0 -2.27,0M644.61,156.09m-1.13,0a1.13,1.13 0 1,0 2.26,0a1.13,1.13 0 1,0 -2.26,0M632.36,156.48m-1.13,0a1.13,1.13 0 1,0 2.26,0a1.13,1.13 0 1,0 -2.26,0M641.60,147.48m-1.13,0a1.13,1.13 0 1,0 2.25,0a1.13,1.13 0 1,0 -2.25,0M640.82,160.97m-1.12,0a1.12,1.12 0 1,0 2.25,0a1.12,1.12 0 1,0 -2.25,0M631.93,150.03m-1.12,0a1.12,1.12 0 1,0 2.24,0a1.12,1.12 0 1,0 -2.24,0M646.42,152.18m-1.12,0a1.12,1.12 0 1,0 2.24,0a1.12,1.12 0 1,0 -2.24,0M633.83,160.68m-1.12,0a1.12,1.12 0 1,0 2.23,0a1.12,1.12 0 1,0 -2.23,0M637.50,145.41m-1.11,0a1.11,1.11 0 1,0 2.23,0a1.11,1.11 0 1,0 -2.23,0M645.34,159.58m-1.11,0a1.11,1.11 0 1,0 2.22,0a1.11,1.11 0 1,0 -2.22,0M629.54,154.27m-1.11,0a1.11,1.11 0 1,0 2.22,0a1.11,1.11 0 1,0 -2.22,0M645.20,147.33m-1.11,0a1.11,1.11 0 1,0 2.21,0a1.11,1.11 0 1,0 -2.21,0M638.16,163.44m-1.10,0a1.10,1.10 0 1,0 2.21,0a1.10,1.10 0 1,0 -2.21,0M632.34,146.40m-1.10,0a1.10,1.10 0 1,0 2.21,0a1.10,1.10 0 1,0 -2.21,0M648.51,155.23m-1.10,0a1.10,1.10 0 1,0 2.20,0a1.10,1.10 0 1,0 -2.20,0M630.22,159.73m-1.10,0a1.10,1.10 0 1,0 2.20,0a1.10,1.10 0 1,0 -2.20,0M640.89,143.73m-1.10,0a1.10,1.10 0 1,0 2.19,0a1.10,1.10 0 1,0 -2.19,0M643.88,163.12m-1.09,0a1.09,1.09 0 1,0 2.19,0a1.09,1.09 0 1,0 -2.19,0M628.28,150.61m-1.09,0a1.09,1.09 0 1,0 2.18,0a1.09,1.09 0 1,0 -2.18,0M648.61,149.28m-1.09,0a1.09,1.09 0 1,0 2.18,0a1.09,1.09 0 1,0 -2.18,0M634.27,164.24m-1.09,0a1.09,1.09 0 1,0 2.17,0a1.09,1.09 0 1,0 -2.17,0M634.74,143.17m-1.08,0a1.08,1.08 0 1,0 2.17,0a1.08,1.08 0 1,0 -2.17,0M648.85,159.29m-1.08,0a1.08,1.08 0 1,0 2.16,0a1.08,1.08 0 1,0 -2.16,0M627.23,156.90m-1.08,0a1.08,1.08 0 1,0 2.16,0a1.08,1.08 0 1,0 -2.16,0M645.05,143.86m-1.08,0a1.08,1.08 0 1,0 2.15,0a1.08,1.08 0 1,0 -2.15,0M640.65,165.83m-1.07,0a1.07,1.07 0 1,0 2.15,0a1.07,1.07 0 1,0 -2.15,0M628.90,146.39m-1.07,0a1.07,1.07 0 1,0 2.15,0a1.07,1.07 0 1,0 -2.15,0M651.00,152.87m-1.07,0a1.07,1.07 0 1,0 2.14,0a1.07,1.07 0 1,0 -2.14,0M630.04,163.15m-1.07,0a1.07,1.07 0 1,0 2.14,0a1.07,1.07 0 1,0 -2.14,0M638.66,141.14m-1.07,0a1.07,1.07 0 1,0 2.13,0a1.07,1.07 0 1,0 -2.13,0M647.28,163.46m-1.06,0a1.06,1.06 0 1,0 2.13,0a1.06,1.06 0 1,0 -2.13,0M625.59,152.69m-1.06,0a1.06,1.06 0 1,0 2.12,0a1.06,1.06 0 1,0 -2.12,0M649.13,145.91m-1.06,0a1.06,1.06 0 1,0 2.12,0a1.06,1.06 0 1,0 -2.12,0M636.21,167.05m-1.06,0a1.06,1.06 0 1,0 2.11,0a1.06,1.06 0 1,0 -2.11,0M631.41,142.47m-1.05,0a1.05,1.05 0 1,0 2.11,0a1.05,1.05 0 1,0 -2.11,0M651.76,157.51m-1.05,0a1.05,1.05 0 1,0 2.10,0a1.05,1.05 0 1,0 -2.10,0M626.33,160.20m-1.05,0a1.05,1.05 0 1,0 2.10,0a1.05,1.05 0 1,0 -2.10,0M643.44,140.84m-1.05,0a1.05,1.05 0 1,0 2.09,0a1.05,1.05 0 1,0 -2.09,0M643.90,166.92m-1.04,0a1.04,1.04 0 1,0 2.09,0a1.04,1.04 0 1,0 -2.09,0M625.77,147.82m-1.04,0a1.04,1.04 0 1,0 2.09,0a1.04,1.04 0 1,0 -2.09,0M652.29,149.68m-1.04,0a1.04,1.04 0 1,0 2.08,0a1.04,1.04 0 1,0 -2.08,0M631.29,166.37m-1.04,0a1.04,1.04 0 1,0 2.08,0a1.04,1.04 0 1,0 -2.08,0M635.54,139.64m-1.04,0a1.04,1.04 0 1,0 2.07,0a1.04,1.04 0 1,0 -2.07,0M650.59,162.42m-1.03,0a1.03,1.03 0 1,0 2.07,0a1.03,1.03 0 1,0 -2.07,0M623.89,155.73m-1.03,0a1.03,1.03 0 1,0 2.06,0a1.03,1.03 0 1,0 -2.06,0M648.29,142.52m-1.03,0a1.03,1.03 0 1,0 2.06,0a1.03,1.03 0 1,0 -2.06,0M639.15,168.96m-1.03,0a1.03,1.03 0 1,0 2.05,0a1.03,1.03 0 1,0 -2.05,0M627.94,143.08m-1.02,0a1.02,1.02 0 1,0 2.05,0a1.02,1.02 0 1,0 -2.05,0M653.88,154.68m-1.02,0a1.02,1.02 0 1,0 2.04,0a1.02,1.02 0 1,0 -2.04,0M626.72,163.72m-1.02,0a1.02,1.02 0 1,0 2.04,0a1.02,1.02 0 1,0 -2.04,0M640.75,138.52m-1.02,0a1.02,1.02 0 1,0 2.03,0a1.02,1.02 0 1,0 -2.03,0M647.47,166.78m-1.01,0a1.01,1.01 0 1,0 2.03,0a1.01,1.01 0 1,0 -2.03,0M623.25,150.37m-1.01,0a1.01,1.01 0 1,0 2.03,0a1.01,1.01 0 1,0 -2.03,0M652.40,146.08m-1.01,0a1.01,1.01 0 1,0 2.02,0a1.01,1.01 0 1,0 -2.02,0M633.67,169.08m-1.01,0a1.01,1.01 0 1,0 2.02,0a1.01,1.01 0 1,0 -2.02,0M631.93,139.28m-1.01,0a1.01,1.01 0 1,0 2.01,0a1.01,1.01 0 1,0 -2.01,0M653.49,160.22m-1.00,0a1.00,1.00 0 1,0 2.01,0a1.00,1.00 0 1,0 -2.01,0M623.26,159.33m-1.00,0a1.00,1.00 0 1,0 2.00,0a1.00,1.00 0 1,0 -2.00,0M646.29,139.44m-1.00,0a1.00,1.00 0 1,0 2.00,0a1.00,1.00 0 1,0 -2.00,0M642.72,169.85m-1.00,0a1.00,1.00 0 1,0 1.99,0a1.00,1.00 0 1,0 -1.99,0M624.71,144.87m-0.99,0a0.99,0.99 0 1,0 1.99,0a0.99,0.99 0 1,0 -1.99,0M655.04,151.16m-0.99,0a0.99,0.99 0 1,0 1.98,0a0.99,0.99 0 1,0 -1.98,0M628.27,167.10m-0.99,0a0.99,0.99 0 1,0 1.98,0a0.99,0.99 0 1,0 -1.98,0M637.29,137.10m-0.99,0a0.99,0.99 0 1,0 1.97,0a0.99,0.99 0 1,0 -1.97,0M650.98,165.47m-0.98,0a0.98,0.98 0 1,0 1.97,0a0.98,0.98 0 1,0 -1.97,0M621.56,153.73m-0.98,0a0.98,0.98 0 1,0 1.97,0a0.98,0.98 0 1,0 -1.97,0M651.34,142.45m-0.98,0a0.98,0.98 0 1,0 1.96,0a0.98,0.98 0 1,0 -1.96,0M636.93,171.04m-0.98,0a0.98,0.98 0 1,0 1.96,0a0.98,0.98 0 1,0 -1.96,0M628.20,140.06m-0.98,0a0.98,0.98 0 1,0 1.95,0a0.98,0.98 0 1,0 -1.95,0M655.70,157.10m-0.97,0a0.97,0.97 0 1,0 1.95,0a0.97,0.97 0 1,0 -1.95,0M623.76,163.14m-0.97,0a0.97,0.97 0 1,0 1.94,0a0.97,0.97 0 1,0 -1.94,0M643.32,136.99m-0.97,0a0.97,0.97 0 1,0 1.94,0a0.97,0.97 0 1,0 -1.94,0M646.58,169.64m-0.97,0a0.97,0.97 0 1,0 1.93,0a0.97,0.97 0 1,0 -1.93,0M622.01,147.66m-0.96,0a0.96,0.96 0 1,0 1.93,0a0.96,0.96 0 1,0 -1.93,0M655.13,147.27m-0.96,0a0.96,0.96 0 1,0 1.92,0a0.96,0.96 0 1,0 -1.92,0M630.86,170.03m-0.96,0a0.96,0.96 0 1,0 1.92,0a0.96,0.96 0 1,0 -1.92,0M633.39,136.71m-0.96,0a0.96,0.96 0 1,0 1.91,0a0.96,0.96 0 1,0 -1.91,0M654.12,163.10m-0.95,0a0.95,0.95 0 1,0 1.91,0a0.95,0.95 0 1,0 -1.91,0M620.86,157.62m-0.95,0a0.95,0.95 0 1,0 1.91,0a0.95,0.95 0 1,0 -1.91,0M649.21,139.12m-0.95,0a0.95,0.95 0 1,0 1.90,0a0.95,0.95 0 1,0 -1.90,0M640.77,172.04m-0.95,0a0.95,0.95 0 1,0 1.90,0a0.95,0.95 0 1,0 -1.90,0M624.69,141.94m-0.95,0a0.95,0.95 0 1,0 1.89,0a0.95,0.95 0 1,0 -1.89,0M657.01,153.32m-0.94,0a0.94,0.94 0 1,0 1.89,0a0.94,0.94 0 1,0 -1.89,0M625.37,166.81m-0.94,0a0.94,0.94 0 1,0 1.88,0a0.94,0.94 0 1,0 -1.88,0M639.64,135.37m-0.94,0a0.94,0.94 0 1,0 1.88,0a0.94,0.94 0 1,0 -1.88,0M650.40,168.32m-0.94,0a0.94,0.94 0 1,0 1.87,0a0.94,0.94 0 1,0 -1.87,0M620.09,151.23m-0.93,0a0.93,0.93 0 1,0 1.87,0a0.93,0.93 0 1,0 -1.87,0M654.11,143.33m-0.93,0a0.93,0.93 0 1,0 1.86,0a0.93,0.93 0 1,0 -1.86,0M634.29,172.23m-0.93,0a0.93,0.93 0 1,0 1.86,0a0.93,0.93 0 1,0 -1.86,0M629.36,137.41m-0.93,0a0.93,0.93 0 1,0 1.85,0a0.93,0.93 0 1,0 -1.85,0M656.61,159.84m-0.92,0a0.92,0.92 0 1,0 1.85,0a0.92,0.92 0 1,0 -1.85,0M621.25,161.71m-0.92,0a0.92,0.92 0 1,0 1.85,0a0.92,0.92 0 1,0 -1.85,0M646.14,136.36m-0.92,0a0.92,0.92 0 1,0 1.84,0a0.92,0.92 0 1,0 -1.84,0M644.91,171.99m-0.92,0a0.92,0.92 0 1,0 1.84,0a0.92,0.92 0 1,0 -1.84,0M621.68,144.79m-0.92,0a0.92,0.92 0 1,0 1.83,0a0.92,0.92 0 1,0 -1.83,0M657.29,149.17m-0.91,0a0.91,0.91 0 1,0 1.83,0a0.91,0.91 0 1,0 -1.83,0M627.98,170.06m-0.91,0a0.91,0.91 0 1,0 1.82,0a0.91,0.91 0 1,0 -1.82,0M635.50,134.75m-0.91,0a0.91,0.91 0 1,0 1.82,0a0.91,0.91 0 1,0 -1.82,0M653.87,165.96m-0.91,0a0.91,0.91 0 1,0 1.81,0a0.91,0.91 0 1,0 -1.81,0M619.14,155.32m-0.90,0a0.90,0.90 0 1,0 1.81,0a0.90,0.90 0 1,0 -1.81,0M652.03,139.66m-0.90,0a0.90,0.90 0 1,0 1.80,0a0.90,0.90 0 1,0 -1.80,0M638.31,173.53m-0.90,0a0.90,0.90 0 1,0 1.80,0a0.90,0.90 0 1,0 -1.80,0M625.52,139.19m-0.90,0a0.90,0.90 0 1,0 1.79,0a0.90,0.90 0 1,0 -1.79,0M658.23,155.91m-0.90,0a0.90,0.90 0 1,0 1.79,0a0.90,0.90 0 1,0 -1.79,0M622.72,165.71m-0.89,0a0.89,0.89 0 1,0 1.79,0a0.89,0.89 0 1,0 -1.79,0M642.34,134.41m-0.89,0a0.89,0.89 0 1,0 1.78,0a0.89,0.89 0 1,0 -1.78,0M649.03,170.84m-0.89,0a0.89,0.89 0 1,0 1.78,0a0.89,0.89 0 1,0 -1.78,0M619.41,148.44m-0.89,0a0.89,0.89 0 1,0 1.77,0a0.89,0.89 0 1,0 -1.77,0M656.48,144.94m-0.88,0a0.88,0.88 0 1,0 1.77,0a0.88,0.88 0 1,0 -1.77,0M631.45,172.63m-0.88,0a0.88,0.88 0 1,0 1.76,0a0.88,0.88 0 1,0 -1.76,0M631.20,135.21m-0.88,0a0.88,0.88 0 1,0 1.76,0a0.88,0.88 0 1,0 -1.76,0M656.72,162.70m-0.88,0a0.88,0.88 0 1,0 1.75,0a0.88,0.88 0 1,0 -1.75,0M619.25,159.66m-0.87,0a0.87,0.87 0 1,0 1.75,0a0.87,0.87 0 1,0 -1.75,0M649.00,136.54m-0.87,0a0.87,0.87 0 1,0 1.74,0a0.87,0.87 0 1,0 -1.74,0M642.67,173.77m-0.87,0a0.87,0.87 0 1,0 1.74,0a0.87,0.87 0 1,0 -1.74,0M622.14,141.97m-0.87,0a0.87,0.87 0 1,0 1.73,0a0.87,0.87 0 1,0 -1.73,0M658.84,151.58m-0.86,0a0.86,0.86 0 1,0 1.73,0a0.86,0.86 0 1,0 -1.73,0M625.21,169.32m-0.86,0a0.86,0.86 0 1,0 1.73,0a0.86,0.86 0 1,0 -1.73,0M638.05,133.45m-0.86,0a0.86,0.86 0 1,0 1.72,0a0.86,0.86 0 1,0 -1.72,0M652.85,168.64m-0.86,0a0.86,0.86 0 1,0 1.72,0a0.86,0.86 0 1,0 -1.72,0M618.09,152.65m-0.86,0a0.86,0.86 0 1,0 1.71,0a0.86,0.86 0 1,0 -1.71,0M654.60,140.94m-0.85,0a0.85,0.85 0 1,0 1.71,0a0.85,0.85 0 1,0 -1.71,0M635.55,174.30m-0.85,0a0.85,0.85 0 1,0 1.70,0a0.85,0.85 0 1,0 -1.70,0M627.05,136.76m-0.85,0a0.85,0.85 0 1,0 1.70,0a0.85,0.85 0 1,0 -1.70,0M658.73,158.74m-0.85,0a0.85,0.85 0 1,0 1.69,0a0.85,0.85 0 1,0 -1.69,0M620.45,163.95m-0.84,0a0.84,0.84 0 1,0 1.69,0a0.84,0.84 0 1,0 -1.69,0M645.21,134.20m-0.84,0a0.84,0.84 0 1,0 1.68,0a0.84,0.84 0 1,0 -1.68,0M647.05,172.93m-0.84,0a0.84,0.84 0 1,0 1.68,0a0.84,0.84 0 1,0 -1.68,0M619.48,145.57m-0.84,0a0.84,0.84 0 1,0 1.67,0a0.84,0.84 0 1,0 -1.67,0M658.36,147.12m-0.83,0a0.83,0.83 0 1,0 1.67,0a0.83,0.83 0 1,0 -1.67,0M628.59,172.28m-0.83,0a0.83,0.83 0 1,0 1.67,0a0.83,0.83 0 1,0 -1.67,0M633.55,133.56m-0.83,0a0.83,0.83 0 1,0 1.66,0a0.83,0.83 0 1,0 -1.66,0M656.09,165.51m-0.83,0a0.83,0.83 0 1,0 1.66,0a0.83,0.83 0 1,0 -1.66,0M617.83,157.16m-0.83,0a0.83,0.83 0 1,0 1.65,0a0.83,0.83 0 1,0 -1.65,0M651.74,137.44m-0.82,0a0.82,0.82 0 1,0 1.65,0a0.82,0.82 0 1,0 -1.65,0M640.03,174.94m-0.82,0a0.82,0.82 0 1,0 1.64,0a0.82,0.82 0 1,0 -1.64,0M623.31,139.33m-0.82,0a0.82,0.82 0 1,0 1.64,0a0.82,0.82 0 1,0 -1.64,0M659.75,154.31m-0.82,0a0.82,0.82 0 1,0 1.63,0a0.82,0.82 0 1,0 -1.63,0M622.70,167.90m-0.81,0a0.81,0.81 0 1,0 1.63,0a0.81,0.81 0 1,0 -1.63,0M640.87,132.81m-0.81,0a0.81,0.81 0 1,0 1.62,0a0.81,0.81 0 1,0 -1.62,0M651.19,171.01m-0.81,0a0.81,0.81 0 1,0 1.62,0a0.81,0.81 0 1,0 -1.62,0M617.73,149.79m-0.81,0a0.81,0.81 0 1,0 1.61,0a0.81,0.81 0 1,0 -1.61,0M656.79,142.82m-0.80,0a0.80,0.80 0 1,0 1.61,0a0.80,0.80 0 1,0 -1.61,0M632.66,174.38m-0.80,0a0.80,0.80 0 1,0 1.61,0a0.80,0.80 0 1,0 -1.61,0M629.13,134.77m-0.80,0a0.80,0.80 0 1,0 1.60,0a0.80,0.80 0 1,0 -1.60,0M658.53,161.62m-0.80,0a0.80,0.80 0 1,0 1.60,0a0.80,0.80 0 1,0 -1.60,0M618.67,161.68m-0.80,0a0.80,0.80 0 1,0 1.59,0a0.80,0.80 0 1,0 -1.59,0M648.06,134.68m-0.79,0a0.79,0.79 0 1,0 1.59,0a0.79,0.79 0 1,0 -1.59,0M644.62,174.48m-0.79,0a0.79,0.79 0 1,0 1.58,0a0.79,0.79 0 1,0 -1.58,0M620.24,142.77m-0.79,0a0.79,0.79 0 1,0 1.58,0a0.79,0.79 0 1,0 -1.58,0M659.68,149.70m-0.79,0a0.79,0.79 0 1,0 1.57,0a0.79,0.79 0 1,0 -1.57,0M625.89,171.25m-0.78,0a0.78,0.78 0 1,0 1.57,0a0.78,0.78 0 1,0 -1.57,0M636.25,132.49m-0.78,0a0.78,0.78 0 1,0 1.56,0a0.78,0.78 0 1,0 -1.56,0M654.81,168.11m-0.78,0a0.78,0.78 0 1,0 1.56,0a0.78,0.78 0 1,0 -1.56,0M617.03,154.37m-0.78,0a0.78,0.78 0 1,0 1.55,0a0.78,0.78 0 1,0 -1.55,0M654.20,138.97m-0.77,0a0.77,0.77 0 1,0 1.55,0a0.77,0.77 0 1,0 -1.55,0M637.18,175.47m-0.77,0a0.77,0.77 0 1,0 1.55,0a0.77,0.77 0 1,0 -1.55,0M625.07,137.03m-0.77,0a0.77,0.77 0 1,0 1.54,0a0.77,0.77 0 1,0 -1.54,0M659.99,157.20m-0.77,0a0.77,0.77 0 1,0 1.54,0a0.77,0.77 0 1,0 -1.54,0M620.58,165.92m-0.77,0a0.77,0.77 0 1,0 1.53,0a0.77,0.77 0 1,0 -1.53,0M643.77,132.84m-0.76,0a0.76,0.76 0 1,0 1.53,0a0.76,0.76 0 1,0 -1.53,0M649.02,172.93m-0.76,0a0.76,0.76 0 1,0 1.52,0a0.76,0.76 0 1,0 -1.52,0M618.05,146.90m-0.76,0a0.76,0.76 0 1,0 1.52,0a0.76,0.76 0 1,0 -1.52,0M658.50,145.17m-0.76,0a0.76,0.76 0 1,0 1.51,0a0.76,0.76 0 1,0 -1.51,0M629.82,173.79m-0.75,0a0.75,0.75 0 1,0 1.51,0a0.75,0.75 0 1,0 -1.51,0M631.64,133.29m-0.75,0a0.75,0.75 0 1,0 1.50,0a0.75,0.75 0 1,0 -1.50,0M657.67,164.40m-0.75,0a0.75,0.75 0 1,0 1.50,0a0.75,0.75 0 1,0 -1.50,0M617.44,159.04m-0.75,0a0.75,0.75 0 1,0 1.49,0a0.75,0.75 0 1,0 -1.49,0M650.74,135.81m-0.74,0a0.74,0.74 0 1,0 1.49,0a0.74,0.74 0 1,0 -1.49,0M641.87,175.45m-0.74,0a0.74,0.74 0 1,0 1.49,0a0.74,0.74 0 1,0 -1.49,0M621.62,140.21m-0.74,0a0.74,0.74 0 1,0 1.48,0a0.74,0.74 0 1,0 -1.48,0M660.38,152.52m-0.74,0a0.74,0.74 0 1,0 1.48,0a0.74,0.74 0 1,0 -1.48,0M623.47,169.63m-0.74,0a0.74,0.74 0 1,0 1.47,0a0.74,0.74 0 1,0 -1.47,0M639.13,132.07m-0.73,0a0.73,0.73 0 1,0 1.47,0a0.73,0.73 0 1,0 -1.47,0M652.96,170.36m-0.73,0a0.73,0.73 0 1,0 1.46,0a0.73,0.73 0 1,0 -1.46,0M616.88,151.46m-0.73,0a0.73,0.73 0 1,0 1.46,0a0.73,0.73 0 1,0 -1.46,0M656.27,141.03m-0.73,0a0.73,0.73 0 1,0 1.45,0a0.73,0.73 0 1,0 -1.45,0M634.27,175.33m-0.72,0a0.72,0.72 0 1,0 1.45,0a0.72,0.72 0 1,0 -1.45,0M627.31,135.16m-0.72,0a0.72,0.72 0 1,0 1.44,0a0.72,0.72 0 1,0 -1.44,0M659.58,160.09m-0.72,0a0.72,0.72 0 1,0 1.44,0a0.72,0.72 0 1,0 -1.44,0M618.94,163.51m-0.72,0a0.72,0.72 0 1,0 1.43,0a0.72,0.72 0 1,0 -1.43,0M646.61,133.53m-0.71,0a0.71,0.71 0 1,0 1.43,0a0.71,0.71 0 1,0 -1.43,0M646.46,174.33m-0.71,0a0.71,0.71 0 1,0 1.43,0a0.71,0.71 0 1,0 -1.43,0M619.00,144.14m-0.71,0a0.71,0.71 0 1,0 1.42,0a0.71,0.71 0 1,0 -1.42,0M659.65,147.86m-0.71,0a0.71,0.71 0 1,0 1.42,0a0.71,0.71 0 1,0 -1.42,0M627.16,172.57m-0.71,0a0.71,0.71 0 1,0 1.41,0a0.71,0.71 0 1,0 -1.41,0M634.42,132.40m-0.70,0a0.70,0.70 0 1,0 1.41,0a0.70,0.70 0 1,0 -1.41,0M656.20,166.93m-0.70,0a0.70,0.70 0 1,0 1.40,0a0.70,0.70 0 1,0 -1.40,0" fill="#d41818"/>
<circle cx="638.6" cy="153.9" r="22.4" fill="none" stroke="#fff" stroke-width="0.8"/>
<circle cx="638.6" cy="153.9" r="23.9" fill="none" stroke="#000" stroke-width="2.0"/>
<circle cx="638.2" cy="220.2" r="24.9" fill="#000"/>
<path d="M632.25,199.75m-0.78,0a0.78,0.78 0 1,0 1.56,0a0.78,0.78 0 1,0 -1.56,0M636.60,199.75m-0.78,0a0.78,0.78 0 1,0 1.56,0a0.78,0.78 0 1,0 -1.56,0M638.05,199.75m-0.78,0a0.78,0.78 0 1,0 1.56,0a0.78,0.78 0 1,0 -1.56,0M640.95,199.75m-0.78,0a0.78,0.78 0 1,0 1.56,0a0.78,0.78 0 1,0 -1.56,0M642.40,199.75m-0.78,0a0.78,0.78 0 1,0 1.56,0a0.78,0.78 0 1,0 -1.56,0M628.62,201.20m-0.78,0a0.78,0.78 0 1,0 1.56,0a0.78,0.78 0 1,0 -1.56,0M630.07,201.20m-0.78,0a0.78,0.78 0 1,0 1.56,0a0.78,0.78 0 1,0 -1.56,0M631.52,201.20m-0.78,0a0.78,0.78 0 1,0 1.56,0a0.78,0.78 0 1,0 -1.56,0M634.42,201.20m-0.78,0a0.78,0.78 0 1,0 1.56,0a0.78,0.78 0 1,0 -1.56,0M637.32,201.20m-0.78,0a0.78,0.78 0 1,0 1.56,0a0.78,0.78 0 1,0 -1.56,0M638.77,201.20m-0.78,0a0.78,0.78 0 1,0 1.56,0a0.78,0.78 0 1,0 -1.56,0M640.22,201.20m-0.78,0a0.78,0.78 0 1,0 1.56,0a0.78,0.78 0 1,0 -1.56,0M641.67,201.20m-0.78,0a0.78,0.78 0 1,0 1.56,0a0.78,0.78 0 1,0 -1.56,0M626.45,202.65m-0.78,0a0.78,0.78 0 1,0 1.56,0a0.78,0.78 0 1,0 -1.56,0M627.90,202.65m-0.78,0a0.78,0.78 0 1,0 1.56,0a0.78,0.78 0 1,0 -1.56,0M629.35,202.65m-0.78,0a0.78,0.78 0 1,0 1.56,0a0.78,0.78 0 1,0 -1.56,0M630.80,202.65m-0.78,0a0.78,0.78 0 1,0 1.56,0a0.78,0.78 0 1,0 -1.56,0M633.70,202.65m-0.78,0a0.78,0.78 0 1,0 1.56,0a0.78,0.78 0 1,0 -1.56,0M638.05,202.65m-0.78,0a0.78,0.78 0 1,0 1.56,0a0.78,0.78 0 1,0 -1.56,0M639.50,202.65m-0.78,0a0.78,0.78 0 1,0 1.56,0a0.78,0.78 0 1,0 -1.56,0M640.95,202.65m-0.78,0a0.78,0.78 0 1,0 1.56,0a0.78,0.78 0 1,0 -1.56,0M646.75,202.65m-0.78,0a0.78,0.78 0 1,0 1.56,0a0.78,0.78 0 1,0 -1.56,0M648.20,202.65m-0.78,0a0.78,0.78 0 1,0 1.56,0a0.78,0.78 0 1,0 -1.56,0M649.65,202.65m-0.78,0a0.78,0.78 0 1,0 1.56,0a0.78,0.78 0 1,0 -1.56,0M624.27,204.10m-0.78,0a0.78,0.78 0 1,0 1.56,0a0.78,0.78 0 1,0 -1.56,0M625.72,204.10m-0.78,0a0.78,0.78 0 1,0 1.56,0a0.78,0.78 0 1,0 -1.56,0M627.17,204.10m-0.78,0a0.78,0.78 0 1,0 1.56,0a0.78,0.78 0 1,0 -1.56,0M628.62,204.10m-0.78,0a0.78,0.78 0 1,0 1.56,0a0.78,0.78 0 1,0 -1.56,0M630.07,204.10m-0.78,0a0.78,0.78 0 1,0 1.56,0a0.78,0.78 0 1,0 -1.56,0M631.52,204.10m-0.78,0a0.78,0.78 0 1,0 1.56,0a0.78,0.78 0 1,0 -1.56,0M632.97,204.10m-0.78,0a0.78,0.78 0 1,0 1.56,0a0.78,0.78 0 1,0 -1.56,0M634.42,204.10m-0.78,0a0.78,0.78 0 1,0 1.56,0a0.78,0.78 0 1,0 -1.56,0M635.87,204.10m-0.78,0a0.78,0.78 0 1,0 1.56,0a0.78,0.78 0 1,0 -1.56,0M637.32,204.10m-0.78,0a0.78,0.78 0 1,0 1.56,0a0.78,0.78 0 1,0 -1.56,0M638.77,204.10m-0.78,0a0.78,0.78 0 1,0 1.56,0a0.78,0.78 0 1,0 -1.56,0M640.22,204.10m-0.78,0a0.78,0.78 0 1,0 1.56,0a0.78,0.78 0 1,0 -1.56,0M641.67,204.10m-0.78,0a0.78,0.78 0 1,0 1.56,0a0.78,0.78 0 1,0 -1.56,0M643.12,204.10m-0.78,0a0.78,0.78 0 1,0 1.56,0a0.78,0.78 0 1,0 -1.56,0M644.57,204.10m-0.78,0a0.78,0.78 0 1,0 1.56,0a0.78,0.78 0 1,0 -1.56,0M646.02,204.10m-0.78,0a0.78,0.78 0 1,0 1.56,0a0.78,0.78 0 1,0 -1.56,0M647.47,204.10m-0.78,0a0.78,0.78 0 1,0 1.56,0a0.78,0.78 0 1,0 -1.56,0M648.92,204.10m-0.78,0a0.78,0.78 0 1,0 1.56,0a0.78,0.78 0 1,0 -1.56,0M623.55,205.55m-0.78,0a0.78,0.78 0 1,0 1.56,0a0.78,0.78 0 1,0 -1.56,0M625.00,205.55m-0.78,0a0.78,0.78 0 1,0 1.56,0a0.78,0.78 0 1,0 -1.56,0M626.45,205.55m-0.78,0a0.78,0.78 0 1,0 1.56,0a0.78,0.78 0 1,0 -1.56,0M630.80,205.55m-0.78,0a0.78,0.78 0 1,0 1.56,0a0.78,0.78 0 1,0 -1.56,0M632.25,205.55m-0.78,0a0.78,0.78 0 1,0 1.56,0a0.78,0.78 0 1,0 -1.56,0M633.70,205.55m-0.78,0a0.78,0.78 0 1,0 1.56,0a0.78,0.78 0 1,0 -1.56,0M640.95,205.55m-0.78,0a0.78,0.78 0 1,0 1.56,0a0.78,0.78 0 1,0 -1.56,0M642.40,205.55m-0.78,0a0.78,0.78 0 1,0 1.56,0a0.78,0.78 0 1,0 -1.56,0M643.85,205.55m-0.78,0a0.78,0.78 0 1,0 1.56,0a0.78,0.78 0 1,0 -1.56,0M645.30,205.55m-0.78,0a0.78,0.78 0 1,0 1.56,0a0.78,0.78 0 1,0 -1.56,0M648.20,205.55m-0.78,0a0.78,0.78 0 1,0 1.56,0a0.78,0.78 0 1,0 -1.56,0M649.65,205.55m-0.78,0a0.78,0.78 0 1,0 1.56,0a0.78,0.78 0 1,0 -1.56,0M622.82,207.00m-0.78,0a0.78,0.78 0 1,0 1.56,0a0.78,0.78 0 1,0 -1.56,0M624.27,207.00m-0.78,0a0.78,0.78 0 1,0 1.56,0a0.78,0.78 0 1,0 -1.56,0M625.72,207.00m-0.78,0a0.78,0.78 0 1,0 1.56,0a0.78,0.78 0 1,0 -1.56,0M631.52,207.00m-0.78,0a0.78,0.78 0 1,0 1.56,0a0.78,0.78 0 1,0 -1.56,0M641.67,207.00m-0.78,0a0.78,0.78 0 1,0 1.56,0a0.78,0.78 0 1,0 -1.56,0M650.37,207.00m-0.78,0a0.78,0.78 0 1,0 1.56,0a0.78,0.78 0 1,0 -1.56,0M651.82,207.00m-0.78,0a0.78,0.78 0 1,0 1.56,0a0.78,0.78 0 1,0 -1.56,0M653.27,207.00m-0.78,0a0.78,0.78 0 1,0 1.56,0a0.78,0.78 0 1,0 -1.56,0M654.72,207.00m-0.78,0a0.78,0.78 0 1,0 1.56,0a0.78,0.78 0 1,0 -1.56,0M625.00,208.45m-0.78,0a0.78,0.78 0 1,0 1.56,0a0.78,0.78 0 1,0 -1.56,0M627.90,208.45m-0.78,0a0.78,0.78 0 1,0 1.56,0a0.78,0.78 0 1,0 -1.56,0M632.25,208.45m-0.78,0a0.78,0.78 0 1,0 1.56,0a0.78,0.78 0 1,0 -1.56,0M640.95,208.45m-0.78,0a0.78,0.78 0 1,0 1.56,0a0.78,0.78 0 1,0 -1.56,0M642.40,208.45m-0.78,0a0.78,0.78 0 1,0 1.56,0a0.78,0.78 0 1,0 -1.56,0M651.10,208.45m-0.78,0a0.78,0.78 0 1,0 1.56,0a0.78,0.78 0 1,0 -1.56,0M652.55,208.45m-0.78,0a0.78,0.78 0 1,0 1.56,0a0.78,0.78 0 1,0 -1.56,0M654.00,208.45m-0.78,0a0.78,0.78 0 1,0 1.56,0a0.78,0.78 0 1,0 -1.56,0M655.45,208.45m-0.78,0a0.78,0.78 0 1,0 1.56,0a0.78,0.78 0 1,0 -1.56,0M619.92,209.90m-0.78,0a0.78,0.78 0 1,0 1.56,0a0.78,0.78 0 1,0 -1.56,0M624.27,209.90m-0.78,0a0.78,0.78 0 1,0 1.56,0a0.78,0.78 0 1,0 -1.56,0M625.72,209.90m-0.78,0a0.78,0.78 0 1,0 1.56,0a0.78,0.78 0 1,0 -1.56,0M630.07,209.90m-0.78,0a0.78,0.78 0 1,0 1.56,0a0.78,0.78 0 1,0 -1.56,0M631.52,209.90m-0.78,0a0.78,0.78 0 1,0 1.56,0a0.78,0.78 0 1,0 -1.56,0M632.97,209.90m-0.78,0a0.78,0.78 0 1,0 1.56,0a0.78,0.78 0 1,0 -1.56,0M635.87,209.90m-0.78,0a0.78,0.78 0 1,0 1.56,0a0.78,0.78 0 1,0 -1.56,0M641.67,209.90m-0.78,0a0.78,0.78 0 1,0 1.56,0a0.78,0.78 0 1,0 -1.56,0M648.92,209.90m-0.78,0a0.78,0.78 0 1,0 1.56,0a0.78,0.78 0 1,0 -1.56,0M650.37,209.90m-0.78,0a0.78,0.78 0 1,0 1.56,0a0.78,0.78 0 1,0 -1.56,0M656.17,209.90m-0.78,0a0.78,0.78 0 1,0 1.56,0a0.78,0.78 0 1,0 -1.56,0M619.20,211.35m-0.78,0a0.78,0.78 0 1,0 1.56,0a0.78,0.78 0 1,0 -1.56,0M620.65,211.35m-0.78,0a0.78,0.78 0 1,0 1.56,0a0.78,0.78 0 1,0 -1.56,0M625.00,211.35m-0.78,0a0.78,0.78 0 1,0 1.56,0a0.78,0.78 0 1,0 -1.56,0M632.25,211.35m-0.78,0a0.78,0.78 0 1,0 1.56,0a0.78,0.78 0 1,0 -1.56,0M633.70,211.35m-0.78,0a0.78,0.78 0 1,0 1.56,0a0.78,0.78 0 1,0 -1.56,0M640.95,211.35m-0.78,0a0.78,0.78 0 1,0 1.56,0a0.78,0.78 0 1,0 -1.56,0M642.40,211.35m-0.78,0a0.78,0.78 0 1,0 1.56,0a0.78,0.78 0 1,0 -1.56,0M646.75,211.35m-0.78,0a0.78,0.78 0 1,0 1.56,0a0.78,0.78 0 1,0 -1.56,0M648.20,211.35m-0.78,0a0.78,0.78 0 1,0 1.56,0a0.78,0.78 0 1,0 -1.56,0M649.65,211.35m-0.78,0a0.78,0.78 0 1,0 1.56,0a0.78,0.78 0 1,0 -1.56,0M656.90,211.35m-0.78,0a0.78,0.78 0 1,0 1.56,0a0.78,0.78 0 1,0 -1.56,0M618.47,212.80m-0.78,0a0.78,0.78 0 1,0 1.56,0a0.78,0.78 0 1,0 -1.56,0M619.92,212.80m-0.78,0a0.78,0.78 0 1,0 1.56,0a0.78,0.78 0 1,0 -1.56,0M624.27,212.80m-0.78,0a0.78,0.78 0 1,0 1.56,0a0.78,0.78 0 1,0 -1.56,0M625.72,212.80m-0.78,0a0.78,0.78 0 1,0 1.56,0a0.78,0.78 0 1,0 -1.56,0M632.97,212.80m-0.78,0a0.78,0.78 0 1,0 1.56,0a0.78,0.78 0 1,0 -1.56,0M638.77,212.80m-0.78,0a0.78,0.78 0 1,0 1.56,0a0.78,0.78 0 1,0 -1.56,0M640.22,212.80m-0.78,0a0.78,0.78 0 1,0 1.56,0a0.78,0.78 0 1,0 -1.56,0M641.67,212.80m-0.78,0a0.78,0.78 0 1,0 1.56,0a0.78,0.78 0 1,0 -1.56,0M643.12,212.80m-0.78,0a0.78,0.78 0 1,0 1.56,0a0.78,0.78 0 1,0 -1.56,0M644.57,212.80m-0.78,0a0.78,0.78 0 1,0 1.56,0a0.78,0.78 0 1,0 -1.56,0M646.02,212.80m-0.78,0a0.78,0.78 0 1,0 1.56,0a0.78,0.78 0 1,0 -1.56,0M647.47,212.80m-0.78,0a0.78,0.78 0 1,0 1.56,0a0.78,0.78 0 1,0 -1.56,0M654.72,212.80m-0.78,0a0.78,0.78 0 1,0 1.56,0a0.78,0.78 0 1,0 -1.56,0M656.17,212.80m-0.78,0a0.78,0.78 0 1,0 1.56,0a0.78,0.78 0 1,0 -1.56,0M657.62,212.80m-0.78,0a0.78,0.78 0 1,0 1.56,0a0.78,0.78 0 1,0 -1.56,0M617.75,214.25m-0.78,0a0.78,0.78 0 1,0 1.56,0a0.78,0.78 0 1,0 -1.56,0M619.20,214.25m-0.78,0a0.78,0.78 0 1,0 1.56,0a0.78,0.78 0 1,0 -1.56,0M620.65,214.25m-0.78,0a0.78,0.78 0 1,0 1.56,0a0.78,0.78 0 1,0 -1.56,0M623.55,214.25m-0.78,0a0.78,0.78 0 1,0 1.56,0a0.78,0.78 0 1,0 -1.56,0M625.00,214.25m-0.78,0a0.78,0.78 0 1,0 1.56,0a0.78,0.78 0 1,0 -1.56,0M626.45,214.25m-0.78,0a0.78,0.78 0 1,0 1.56,0a0.78,0.78 0 1,0 -1.56,0M630.80,214.25m-0.78,0a0.78,0.78 0 1,0 1.56,0a0.78,0.78 0 1,0 -1.56,0M632.25,214.25m-0.78,0a0.78,0.78 0 1,0 1.56,0a0.78,0.78 0 1,0 -1.56,0M633.70,214.25m-0.78,0a0.78,0.78 0 1,0 1.56,0a0.78,0.78 0 1,0 -1.56,0M635.15,214.25m-0.78,0a0.78,0.78 0 1,0 1.56,0a0.78,0.78 0 1,0 -1.56,0M636.60,214.25m-0.78,0a0.78,0.78 0 1,0 1.56,0a0.78,0.78 0 1,0 -1.56,0M638.05,214.25m-0.78,0a0.78,0.78 0 1,0 1.56,0a0.78,0.78 0 1,0 -1.56,0M639.50,214.25m-0.78,0a0.78,0.78 0 1,0 1.56,0a0.78,0.78 0 1,0 -1.56,0M643.85,214.25m-0.78,0a0.78,0.78 0 1,0 1.56,0a0.78,0.78 0 1,0 -1.56,0M645.30,214.25m-0.78,0a0.78,0.78 0 1,0 1.56,0a0.78,0.78 0 1,0 -1.56,0M646.75,214.25m-0.78,0a0.78,0.78 0 1,0 1.56,0a0.78,0.78 0 1,0 -1.56,0M652.55,214.25m-0.78,0a0.78,0.78 0 1,0 1.56,0a0.78,0.78 0 1,0 -1.56,0M654.00,214.25m-0.78,0a0.78,0.78 0 1,0 1.56,0a0.78,0.78 0 1,0 -1.56,0M655.45,214.25m-0.78,0a0.78,0.78 0 1,0 1.56,0a0.78,0.78 0 1,0 -1.56,0M656.90,214.25m-0.78,0a0.78,0.78 0 1,0 1.56,0a0.78,0.78 0 1,0 -1.56,0M658.35,214.25m-0.78,0a0.78,0.78 0 1,0 1.56,0a0.78,0.78 0 1,0 -1.56,0M618.47,215.70m-0.78,0a0.78,0.78 0 1,0 1.56,0a0.78,0.78 0 1,0 -1.56,0M619.92,215.70m-0.78,0a0.78,0.78 0 1,0 1.56,0a0.78,0.78 0 1,0 -1.56,0M621.37,215.70m-0.78,0a0.78,0.78 0 1,0 1.56,0a0.78,0.78 0 1,0 -1.56,0M622.82,215.70m-0.78,0a0.78,0.78 0 1,0 1.56,0a0.78,0.78 0 1,0 -1.56,0M624.27,215.70m-0.78,0a0.78,0.78 0 1,0 1.56,0a0.78,0.78 0 1,0 -1.56,0M625.72,215.70m-0.78,0a0.78,0.78 0 1,0 1.56,0a0.78,0.78 0 1,0 -1.56,0M627.17,215.70m-0.78,0a0.78,0.78 0 1,0 1.56,0a0.78,0.78 0 1,0 -1.56,0M628.62,215.70m-0.78,0a0.78,0.78 0 1,0 1.56,0a0.78,0.78 0 1,0 -1.56,0M630.07,215.70m-0.78,0a0.78,0.78 0 1,0 1.56,0a0.78,0.78 0 1,0 -1.56,0M631.52,215.70m-0.78,0a0.78,0.78 0 1,0 1.56,0a0.78,0.78 0 1,0 -1.56,0M632.97,215.70m-0.78,0a0.78,0.78 0 1,0 1.56,0a0.78,0.78 0 1,0 -1.56,0M634.42,215.70m-0.78,0a0.78,0.78 0 1,0 1.56,0a0.78,0.78 0 1,0 -1.56,0M635.87,215.70m-0.78,0a0.78,0.78 0 1,0 1.56,0a0.78,0.78 0 1,0 -1.56,0M637.32,215.70m-0.78,0a0.78,0.78 0 1,0 1.56,0a0.78,0.78 0 1,0 -1.56,0M638.77,215.70m-0.78,0a0.78,0.78 0 1,0 1.56,0a0.78,0.78 0 1,0 -1.56,0M644.57,215.70m-0.78,0a0.78,0.78 0 1,0 1.56,0a0.78,0.78 0 1,0 -1.56,0M646.02,215.70m-0.78,0a0.78,0.78 0 1,0 1.56,0a0.78,0.78 0 1,0 -1.56,0M647.47,215.70m-0.78,0a0.78,0.78 0 1,0 1.56,0a0.78,0.78 0 1,0 -1.56,0M648.92,215.70m-0.78,0a0.78,0.78 0 1,0 1.56,0a0.78,0.78 0 1,0 -1.56,0M650.37,215.70m-0.78,0a0.78,0.78 0 1,0 1.56,0a0.78,0.78 0 1,0 -1.56,0M651.82,215.70m-0.78,0a0.78,0.78 0 1,0 1.56,0a0.78,0.78 0 1,0 -1.56,0M653.27,215.70m-0.78,0a0.78,0.78 0 1,0 1.56,0a0.78,0.78 0 1,0 -1.56,0M617.75,217.15m-0.78,0a0.78,0.78 0 1,0 1.56,0a0.78,0.78 0 1,0 -1.56,0M622.10,217.15m-0.78,0a0.78,0.78 0 1,0 1.56,0a0.78,0.78 0 1,0 -1.56,0M623.55,217.15m-0.78,0a0.78,0.78 0 1,0 1.56,0a0.78,0.78 0 1,0 -1.56,0M625.00,217.15m-0.78,0a0.78,0.78 0 1,0 1.56,0a0.78,0.78 0 1,0 -1.56,0M626.45,217.15m-0.78,0a0.78,0.78 0 1,0 1.56,0a0.78,0.78 0 1,0 -1.56,0M633.70,217.15m-0.78,0a0.78,0.78 0 1,0 1.56,0a0.78,0.78 0 1,0 -1.56,0M635.15,217.15m-0.78,0a0.78,0.78 0 1,0 1.56,0a0.78,0.78 0 1,0 -1.56,0M636.60,217.15m-0.78,0a0.78,0.78 0 1,0 1.56,0a0.78,0.78 0 1,0 -1.56,0M638.05,217.15m-0.78,0a0.78,0.78 0 1,0 1.56,0a0.78,0.78 0 1,0 -1.56,0M645.30,217.15m-0.78,0a0.78,0.78 0 1,0 1.56,0a0.78,0.78 0 1,0 -1.56,0M649.65,217.15m-0.78,0a0.78,0.78 0 1,0 1.56,0a0.78,0.78 0 1,0 -1.56,0M651.10,217.15m-0.78,0a0.78,0.78 0 1,0 1.56,0a0.78,0.78 0 1,0 -1.56,0M624.27,218.60m-0.78,0a0.78,0.78 0 1,0 1.56,0a0.78,0.78 0 1,0 -1.56,0M632.97,218.60m-0.78,0a0.78,0.78 0 1,0 1.56,0a0.78,0.78 0 1,0 -1.56,0M634.42,218.60m-0.78,0a0.78,0.78 0 1,0 1.56,0a0.78,0.78 0 1,0 -1.56,0M637.32,218.60m-0.78,0a0.78,0.78 0 1,0 1.56,0a0.78,0.78 0 1,0 -1.56,0M638.77,218.60m-0.78,0a0.78,0.78 0 1,0 1.56,0a0.78,0.78 0 1,0 -1.56,0M644.57,218.60m-0.78,0a0.78,0.78 0 1,0 1.56,0a0.78,0.78 0 1,0 -1.56,0M647.47,218.60m-0.78,0a0.78,0.78 0 1,0 1.56,0a0.78,0.78 0 1,0 -1.56,0M650.37,218.60m-0.78,0a0.78,0.78 0 1,0 1.56,0a0.78,0.78 0 1,0 -1.56,0M656.17,218.60m-0.78,0a0.78,0.78 0 1,0 1.56,0a0.78,0.78 0 1,0 -1.56,0M657.62,218.60m-0.78,0a0.78,0.78 0 1,0 1.56,0a0.78,0.78 0 1,0 -1.56,0M659.07,218.60m-0.78,0a0.78,0.78 0 1,0 1.56,0a0.78,0.78 0 1,0 -1.56,0M623.55,220.05m-0.78,0a0.78,0.78 0 1,0 1.56,0a0.78,0.78 0 1,0 -1.56,0M625.00,220.05m-0.78,0a0.78,0.78 0 1,0 1.56,0a0.78,0.78 0 1,0 -1.56,0M626.45,220.05m-0.78,0a0.78,0.78 0 1,0 1.56,0a0.78,0.78 0 1,0 -1.56,0M633.70,220.05m-0.78,0a0.78,0.78 0 1,0 1.56,0a0.78,0.78 0 1,0 -1.56,0M638.05,220.05m-0.78,0a0.78,0.78 0 1,0 1.56,0a0.78,0.78 0 1,0 -1.56,0M639.50,220.05m-0.78,0a0.78,0.78 0 1,0 1.56,0a0.78,0.78 0 1,0 -1.56,0M640.95,220.05m-0.78,0a0.78,0.78 0 1,0 1.56,0a0.78,0.78 0 1,0 -1.56,0M643.85,220.05m-0.78,0a0.78,0.78 0 1,0 1.56,0a0.78,0.78 0 1,0 -1.56,0M645.30,220.05m-0.78,0a0.78,0.78 0 1,0 1.56,0a0.78,0.78 0 1,0 -1.56,0M651.10,220.05m-0.78,0a0.78,0.78 0 1,0 1.56,0a0.78,0.78 0 1,0 -1.56,0M652.55,220.05m-0.78,0a0.78,0.78 0 1,0 1.56,0a0.78,0.78 0 1,0 -1.56,0M654.00,220.05m-0.78,0a0.78,0.78 0 1,0 1.56,0a0.78,0.78 0 1,0 -1.56,0M655.45,220.05m-0.78,0a0.78,0.78 0 1,0 1.56,0a0.78,0.78 0 1,0 -1.56,0M656.90,220.05m-0.78,0a0.78,0.78 0 1,0 1.56,0a0.78,0.78 0 1,0 -1.56,0M658.35,220.05m-0.78,0a0.78,0.78 0 1,0 1.56,0a0.78,0.78 0 1,0 -1.56,0M621.37,221.50m-0.78,0a0.78,0.78 0 1,0 1.56,0a0.78,0.78 0 1,0 -1.56,0M622.82,221.50m-0.78,0a0.78,0.78 0 1,0 1.56,0a0.78,0.78 0 1,0 -1.56,0M624.27,221.50m-0.78,0a0.78,0.78 0 1,0 1.56,0a0.78,0.78 0 1,0 -1.56,0M625.72,221.50m-0.78,0a0.78,0.78 0 1,0 1.56,0a0.78,0.78 0 1,0 -1.56,0M627.17,221.50m-0.78,0a0.78,0.78 0 1,0 1.56,0a0.78,0.78 0 1,0 -1.56,0M628.62,221.50m-0.78,0a0.78,0.78 0 1,0 1.56,0a0.78,0.78 0 1,0 -1.56,0M632.97,221.50m-0.78,0a0.78,0.78 0 1,0 1.56,0a0.78,0.78 0 1,0 -1.56,0M634.42,221.50m-0.78,0a0.78,0.78 0 1,0 1.56,0a0.78,0.78 0 1,0 -1.56,0M638.77,221.50m-0.78,0a0.78,0.78 0 1,0 1.56,0a0.78,0.78 0 1,0 -1.56,0M640.22,221.50m-0.78,0a0.78,0.78 0 1,0 1.56,0a0.78,0.78 0 1,0 -1.56,0M643.12,221.50m-0.78,0a0.78,0.78 0 1,0 1.56,0a0.78,0.78 0 1,0 -1.56,0M644.57,221.50m-0.78,0a0.78,0.78 0 1,0 1.56,0a0.78,0.78 0 1,0 -1.56,0M651.82,221.50m-0.78,0a0.78,0.78 0 1,0 1.56,0a0.78,0.78 0 1,0 -1.56,0M653.27,221.50m-0.78,0a0.78,0.78 0 1,0 1.56,0a0.78,0.78 0 1,0 -1.56,0M656.17,221.50m-0.78,0a0.78,0.78 0 1,0 1.56,0a0.78,0.78 0 1,0 -1.56,0M657.62,221.50m-0.78,0a0.78,0.78 0 1,0 1.56,0a0.78,0.78 0 1,0 -1.56,0M617.75,222.95m-0.78,0a0.78,0.78 0 1,0 1.56,0a0.78,0.78 0 1,0 -1.56,0M619.20,222.95m-0.78,0a0.78,0.78 0 1,0 1.56,0a0.78,0.78 0 1,0 -1.56,0M620.65,222.95m-0.78,0a0.78,0.78 0 1,0 1.56,0a0.78,0.78 0 1,0 -1.56,0M622.10,222.95m-0.78,0a0.78,0.78 0 1,0 1.56,0a0.78,0.78 0 1,0 -1.56,0M625.00,222.95m-0.78,0a0.78,0.78 0 1,0 1.56,0a0.78,0.78 0 1,0 -1.56,0M626.45,222.95m-0.78,0a0.78,0.78 0 1,0 1.56,0a0.78,0.78 0 1,0 -1.56,0M627.90,222.95m-0.78,0a0.78,0.78 0 1,0 1.56,0a0.78,0.78 0 1,0 -1.56,0M629.35,222.95m-0.78,0a0.78,0.78 0 1,0 1.56,0a0.78,0.78 0 1,0 -1.56,0M630.80,222.95m-0.78,0a0.78,0.78 0 1,0 1.56,0a0.78,0.78 0 1,0 -1.56,0M632.25,222.95m-0.78,0a0.78,0.78 0 1,0 1.56,0a0.78,0.78 0 1,0 -1.56,0M633.70,222.95m-0.78,0a0.78,0.78 0 1,0 1.56,0a0.78,0.78 0 1,0 -1.56,0M639.50,222.95m-0.78,0a0.78,0.78 0 1,0 1.56,0a0.78,0.78 0 1,0 -1.56,0M640.95,222.95m-0.78,0a0.78,0.78 0 1,0 1.56,0a0.78,0.78 0 1,0 -1.56,0M642.40,222.95m-0.78,0a0.78,0.78 0 1,0 1.56,0a0.78,0.78 0 1,0 -1.56,0M643.85,222.95m-0.78,0a0.78,0.78 0 1,0 1.56,0a0.78,0.78 0 1,0 -1.56,0M651.10,222.95m-0.78,0a0.78,0.78 0 1,0 1.56,0a0.78,0.78 0 1,0 -1.56,0M618.47,224.40m-0.78,0a0.78,0.78 0 1,0 1.56,0a0.78,0.78 0 1,0 -1.56,0M619.92,224.40m-0.78,0a0.78,0.78 0 1,0 1.56,0a0.78,0.78 0 1,0 -1.56,0M621.37,224.40m-0.78,0a0.78,0.78 0 1,0 1.56,0a0.78,0.78 0 1,0 -1.56,0M625.72,224.40m-0.78,0a0.78,0.78 0 1,0 1.56,0a0.78,0.78 0 1,0 -1.56,0M627.17,224.40m-0.78,0a0.78,0.78 0 1,0 1.56,0a0.78,0.78 0 1,0 -1.56,0M631.52,224.40m-0.78,0a0.78,0.78 0 1,0 1.56,0a0.78,0.78 0 1,0 -1.56,0M632.97,224.40m-0.78,0a0.78,0.78 0 1,0 1.56,0a0.78,0.78 0 1,0 -1.56,0M634.42,224.40m-0.78,0a0.78,0.78 0 1,0 1.56,0a0.78,0.78 0 1,0 -1.56,0M638.77,224.40m-0.78,0a0.78,0.78 0 1,0 1.56,0a0.78,0.78 0 1,0 -1.56,0M640.22,224.40m-0.78,0a0.78,0.78 0 1,0 1.56,0a0.78,0.78 0 1,0 -1.56,0M641.67,224.40m-0.78,0a0.78,0.78 0 1,0 1.56,0a0.78,0.78 0 1,0 -1.56,0M643.12,224.40m-0.78,0a0.78,0.78 0 1,0 1.56,0a0.78,0.78 0 1,0 -1.56,0M644.57,224.40m-0.78,0a0.78,0.78 0 1,0 1.56,0a0.78,0.78 0 1,0 -1.56,0M650.37,224.40m-0.78,0a0.78,0.78 0 1,0 1.56,0a0.78,0.78 0 1,0 -1.56,0M651.82,224.40m-0.78,0a0.78,0.78 0 1,0 1.56,0a0.78,0.78 0 1,0 -1.56,0M659.07,224.40m-0.78,0a0.78,0.78 0 1,0 1.56,0a0.78,0.78 0 1,0 -1.56,0M620.65,225.85m-0.78,0a0.78,0.78 0 1,0 1.56,0a0.78,0.78 0 1,0 -1.56,0M622.10,225.85m-0.78,0a0.78,0.78 0 1,0 1.56,0a0.78,0.78 0 1,0 -1.56,0M626.45,225.85m-0.78,0a0.78,0.78 0 1,0 1.56,0a0.78,0.78 0 1,0 -1.56,0M633.70,225.85m-0.78,0a0.78,0.78 0 1,0 1.56,0a0.78,0.78 0 1,0 -1.56,0M635.15,225.85m-0.78,0a0.78,0.78 0 1,0 1.56,0a0.78,0.78 0 1,0 -1.56,0M636.60,225.85m-0.78,0a0.78,0.78 0 1,0 1.56,0a0.78,0.78 0 1,0 -1.56,0M638.05,225.85m-0.78,0a0.78,0.78 0 1,0 1.56,0a0.78,0.78 0 1,0 -1.56,0M645.30,225.85m-0.78,0a0.78,0.78 0 1,0 1.56,0a0.78,0.78 0 1,0 -1.56,0M646.75,225.85m-0.78,0a0.78,0.78 0 1,0 1.56,0a0.78,0.78 0 1,0 -1.56,0M648.20,225.85m-0.78,0a0.78,0.78 0 1,0 1.56,0a0.78,0.78 0 1,0 -1.56,0M649.65,225.85m-0.78,0a0.78,0.78 0 1,0 1.56,0a0.78,0.78 0 1,0 -1.56,0M651.10,225.85m-0.78,0a0.78,0.78 0 1,0 1.56,0a0.78,0.78 0 1,0 -1.56,0M652.55,225.85m-0.78,0a0.78,0.78 0 1,0 1.56,0a0.78,0.78 0 1,0 -1.56,0M654.00,225.85m-0.78,0a0.78,0.78 0 1,0 1.56,0a0.78,0.78 0 1,0 -1.56,0M655.45,225.85m-0.78,0a0.78,0.78 0 1,0 1.56,0a0.78,0.78 0 1,0 -1.56,0M656.90,225.85m-0.78,0a0.78,0.78 0 1,0 1.56,0a0.78,0.78 0 1,0 -1.56,0M658.35,225.85m-0.78,0a0.78,0.78 0 1,0 1.56,0a0.78,0.78 0 1,0 -1.56,0M621.37,227.30m-0.78,0a0.78,0.78 0 1,0 1.56,0a0.78,0.78 0 1,0 -1.56,0M627.17,227.30m-0.78,0a0.78,0.78 0 1,0 1.56,0a0.78,0.78 0 1,0 -1.56,0M632.97,227.30m-0.78,0a0.78,0.78 0 1,0 1.56,0a0.78,0.78 0 1,0 -1.56,0M634.42,227.30m-0.78,0a0.78,0.78 0 1,0 1.56,0a0.78,0.78 0 1,0 -1.56,0M635.87,227.30m-0.78,0a0.78,0.78 0 1,0 1.56,0a0.78,0.78 0 1,0 -1.56,0M637.32,227.30m-0.78,0a0.78,0.78 0 1,0 1.56,0a0.78,0.78 0 1,0 -1.56,0M644.57,227.30m-0.78,0a0.78,0.78 0 1,0 1.56,0a0.78,0.78 0 1,0 -1.56,0M646.02,227.30m-0.78,0a0.78,0.78 0 1,0 1.56,0a0.78,0.78 0 1,0 -1.56,0M650.37,227.30m-0.78,0a0.78,0.78 0 1,0 1.56,0a0.78,0.78 0 1,0 -1.56,0M651.82,227.30m-0.78,0a0.78,0.78 0 1,0 1.56,0a0.78,0.78 0 1,0 -1.56,0M653.27,227.30m-0.78,0a0.78,0.78 0 1,0 1.56,0a0.78,0.78 0 1,0 -1.56,0M654.72,227.30m-0.78,0a0.78,0.78 0 1,0 1.56,0a0.78,0.78 0 1,0 -1.56,0M656.17,227.30m-0.78,0a0.78,0.78 0 1,0 1.56,0a0.78,0.78 0 1,0 -1.56,0M657.62,227.30m-0.78,0a0.78,0.78 0 1,0 1.56,0a0.78,0.78 0 1,0 -1.56,0M620.65,228.75m-0.78,0a0.78,0.78 0 1,0 1.56,0a0.78,0.78 0 1,0 -1.56,0M622.10,228.75m-0.78,0a0.78,0.78 0 1,0 1.56,0a0.78,0.78 0 1,0 -1.56,0M626.45,228.75m-0.78,0a0.78,0.78 0 1,0 1.56,0a0.78,0.78 0 1,0 -1.56,0M627.90,228.75m-0.78,0a0.78,0.78 0 1,0 1.56,0a0.78,0.78 0 1,0 -1.56,0M629.35,228.75m-0.78,0a0.78,0.78 0 1,0 1.56,0a0.78,0.78 0 1,0 -1.56,0M630.80,228.75m-0.78,0a0.78,0.78 0 1,0 1.56,0a0.78,0.78 0 1,0 -1.56,0M632.25,228.75m-0.78,0a0.78,0.78 0 1,0 1.56,0a0.78,0.78 0 1,0 -1.56,0M638.05,228.75m-0.78,0a0.78,0.78 0 1,0 1.56,0a0.78,0.78 0 1,0 -1.56,0M643.85,228.75m-0.78,0a0.78,0.78 0 1,0 1.56,0a0.78,0.78 0 1,0 -1.56,0M645.30,228.75m-0.78,0a0.78,0.78 0 1,0 1.56,0a0.78,0.78 0 1,0 -1.56,0M651.10,228.75m-0.78,0a0.78,0.78 0 1,0 1.56,0a0.78,0.78 0 1,0 -1.56,0M619.92,230.20m-0.78,0a0.78,0.78 0 1,0 1.56,0a0.78,0.78 0 1,0 -1.56,0M622.82,230.20m-0.78,0a0.78,0.78 0 1,0 1.56,0a0.78,0.78 0 1,0 -1.56,0M624.27,230.20m-0.78,0a0.78,0.78 0 1,0 1.56,0a0.78,0.78 0 1,0 -1.56,0M625.72,230.20m-0.78,0a0.78,0.78 0 1,0 1.56,0a0.78,0.78 0 1,0 -1.56,0M628.62,230.20m-0.78,0a0.78,0.78 0 1,0 1.56,0a0.78,0.78 0 1,0 -1.56,0M630.07,230.20m-0.78,0a0.78,0.78 0 1,0 1.56,0a0.78,0.78 0 1,0 -1.56,0M631.52,230.20m-0.78,0a0.78,0.78 0 1,0 1.56,0a0.78,0.78 0 1,0 -1.56,0M632.97,230.20m-0.78,0a0.78,0.78 0 1,0 1.56,0a0.78,0.78 0 1,0 -1.56,0M638.77,230.20m-0.78,0a0.78,0.78 0 1,0 1.56,0a0.78,0.78 0 1,0 -1.56,0M640.22,230.20m-0.78,0a0.78,0.78 0 1,0 1.56,0a0.78,0.78 0 1,0 -1.56,0M643.12,230.20m-0.78,0a0.78,0.78 0 1,0 1.56,0a0.78,0.78 0 1,0 -1.56,0M644.57,230.20m-0.78,0a0.78,0.78 0 1,0 1.56,0a0.78,0.78 0 1,0 -1.56,0M650.37,230.20m-0.78,0a0.78,0.78 0 1,0 1.56,0a0.78,0.78 0 1,0 -1.56,0M651.82,230.20m-0.78,0a0.78,0.78 0 1,0 1.56,0a0.78,0.78 0 1,0 -1.56,0M623.55,231.65m-0.78,0a0.78,0.78 0 1,0 1.56,0a0.78,0.78 0 1,0 -1.56,0M625.00,231.65m-0.78,0a0.78,0.78 0 1,0 1.56,0a0.78,0.78 0 1,0 -1.56,0M626.45,231.65m-0.78,0a0.78,0.78 0 1,0 1.56,0a0.78,0.78 0 1,0 -1.56,0M627.90,231.65m-0.78,0a0.78,0.78 0 1,0 1.56,0a0.78,0.78 0 1,0 -1.56,0M629.35,231.65m-0.78,0a0.78,0.78 0 1,0 1.56,0a0.78,0.78 0 1,0 -1.56,0M632.25,231.65m-0.78,0a0.78,0.78 0 1,0 1.56,0a0.78,0.78 0 1,0 -1.56,0M633.70,231.65m-0.78,0a0.78,0.78 0 1,0 1.56,0a0.78,0.78 0 1,0 -1.56,0M639.50,231.65m-0.78,0a0.78,0.78 0 1,0 1.56,0a0.78,0.78 0 1,0 -1.56,0M640.95,231.65m-0.78,0a0.78,0.78 0 1,0 1.56,0a0.78,0.78 0 1,0 -1.56,0M642.40,231.65m-0.78,0a0.78,0.78 0 1,0 1.56,0a0.78,0.78 0 1,0 -1.56,0M643.85,231.65m-0.78,0a0.78,0.78 0 1,0 1.56,0a0.78,0.78 0 1,0 -1.56,0M651.10,231.65m-0.78,0a0.78,0.78 0 1,0 1.56,0a0.78,0.78 0 1,0 -1.56,0M624.27,233.10m-0.78,0a0.78,0.78 0 1,0 1.56,0a0.78,0.78 0 1,0 -1.56,0M628.62,233.10m-0.78,0a0.78,0.78 0 1,0 1.56,0a0.78,0.78 0 1,0 -1.56,0M630.07,233.10m-0.78,0a0.78,0.78 0 1,0 1.56,0a0.78,0.78 0 1,0 -1.56,0M631.52,233.10m-0.78,0a0.78,0.78 0 1,0 1.56,0a0.78,0.78 0 1,0 -1.56,0M634.42,233.10m-0.78,0a0.78,0.78 0 1,0 1.56,0a0.78,0.78 0 1,0 -1.56,0M635.87,233.10m-0.78,0a0.78,0.78 0 1,0 1.56,0a0.78,0.78 0 1,0 -1.56,0M640.22,233.10m-0.78,0a0.78,0.78 0 1,0 1.56,0a0.78,0.78 0 1,0 -1.56,0M641.67,233.10m-0.78,0a0.78,0.78 0 1,0 1.56,0a0.78,0.78 0 1,0 -1.56,0M643.12,233.10m-0.78,0a0.78,0.78 0 1,0 1.56,0a0.78,0.78 0 1,0 -1.56,0M648.92,233.10m-0.78,0a0.78,0.78 0 1,0 1.56,0a0.78,0.78 0 1,0 -1.56,0M650.37,233.10m-0.78,0a0.78,0.78 0 1,0 1.56,0a0.78,0.78 0 1,0 -1.56,0M651.82,233.10m-0.78,0a0.78,0.78 0 1,0 1.56,0a0.78,0.78 0 1,0 -1.56,0M653.27,233.10m-0.78,0a0.78,0.78 0 1,0 1.56,0a0.78,0.78 0 1,0 -1.56,0M623.55,234.55m-0.78,0a0.78,0.78 0 1,0 1.56,0a0.78,0.78 0 1,0 -1.56,0M625.00,234.55m-0.78,0a0.78,0.78 0 1,0 1.56,0a0.78,0.78 0 1,0 -1.56,0M629.35,234.55m-0.78,0a0.78,0.78 0 1,0 1.56,0a0.78,0.78 0 1,0 -1.56,0M635.15,234.55m-0.78,0a0.78,0.78 0 1,0 1.56,0a0.78,0.78 0 1,0 -1.56,0M636.60,234.55m-0.78,0a0.78,0.78 0 1,0 1.56,0a0.78,0.78 0 1,0 -1.56,0M638.05,234.55m-0.78,0a0.78,0.78 0 1,0 1.56,0a0.78,0.78 0 1,0 -1.56,0M639.50,234.55m-0.78,0a0.78,0.78 0 1,0 1.56,0a0.78,0.78 0 1,0 -1.56,0M640.95,234.55m-0.78,0a0.78,0.78 0 1,0 1.56,0a0.78,0.78 0 1,0 -1.56,0M642.40,234.55m-0.78,0a0.78,0.78 0 1,0 1.56,0a0.78,0.78 0 1,0 -1.56,0M645.30,234.55m-0.78,0a0.78,0.78 0 1,0 1.56,0a0.78,0.78 0 1,0 -1.56,0M646.75,234.55m-0.78,0a0.78,0.78 0 1,0 1.56,0a0.78,0.78 0 1,0 -1.56,0M648.20,234.55m-0.78,0a0.78,0.78 0 1,0 1.56,0a0.78,0.78 0 1,0 -1.56,0M649.65,234.55m-0.78,0a0.78,0.78 0 1,0 1.56,0a0.78,0.78 0 1,0 -1.56,0M652.55,234.55m-0.78,0a0.78,0.78 0 1,0 1.56,0a0.78,0.78 0 1,0 -1.56,0M625.72,236.00m-0.78,0a0.78,0.78 0 1,0 1.56,0a0.78,0.78 0 1,0 -1.56,0M627.17,236.00m-0.78,0a0.78,0.78 0 1,0 1.56,0a0.78,0.78 0 1,0 -1.56,0M628.62,236.00m-0.78,0a0.78,0.78 0 1,0 1.56,0a0.78,0.78 0 1,0 -1.56,0M630.07,236.00m-0.78,0a0.78,0.78 0 1,0 1.56,0a0.78,0.78 0 1,0 -1.56,0M634.42,236.00m-0.78,0a0.78,0.78 0 1,0 1.56,0a0.78,0.78 0 1,0 -1.56,0M635.87,236.00m-0.78,0a0.78,0.78 0 1,0 1.56,0a0.78,0.78 0 1,0 -1.56,0M637.32,236.00m-0.78,0a0.78,0.78 0 1,0 1.56,0a0.78,0.78 0 1,0 -1.56,0M638.77,236.00m-0.78,0a0.78,0.78 0 1,0 1.56,0a0.78,0.78 0 1,0 -1.56,0M643.12,236.00m-0.78,0a0.78,0.78 0 1,0 1.56,0a0.78,0.78 0 1,0 -1.56,0M644.57,236.00m-0.78,0a0.78,0.78 0 1,0 1.56,0a0.78,0.78 0 1,0 -1.56,0M646.02,236.00m-0.78,0a0.78,0.78 0 1,0 1.56,0a0.78,0.78 0 1,0 -1.56,0M626.45,237.45m-0.78,0a0.78,0.78 0 1,0 1.56,0a0.78,0.78 0 1,0 -1.56,0M627.90,237.45m-0.78,0a0.78,0.78 0 1,0 1.56,0a0.78,0.78 0 1,0 -1.56,0M629.35,237.45m-0.78,0a0.78,0.78 0 1,0 1.56,0a0.78,0.78 0 1,0 -1.56,0M630.80,237.45m-0.78,0a0.78,0.78 0 1,0 1.56,0a0.78,0.78 0 1,0 -1.56,0M632.25,237.45m-0.78,0a0.78,0.78 0 1,0 1.56,0a0.78,0.78 0 1,0 -1.56,0M633.70,237.45m-0.78,0a0.78,0.78 0 1,0 1.56,0a0.78,0.78 0 1,0 -1.56,0M635.15,237.45m-0.78,0a0.78,0.78 0 1,0 1.56,0a0.78,0.78 0 1,0 -1.56,0M643.85,237.45m-0.78,0a0.78,0.78 0 1,0 1.56,0a0.78,0.78 0 1,0 -1.56,0M645.30,237.45m-0.78,0a0.78,0.78 0 1,0 1.56,0a0.78,0.78 0 1,0 -1.56,0M649.65,237.45m-0.78,0a0.78,0.78 0 1,0 1.56,0a0.78,0.78 0 1,0 -1.56,0M632.97,238.90m-0.78,0a0.78,0.78 0 1,0 1.56,0a0.78,0.78 0 1,0 -1.56,0M634.42,238.90m-0.78,0a0.78,0.78 0 1,0 1.56,0a0.78,0.78 0 1,0 -1.56,0M644.57,238.90m-0.78,0a0.78,0.78 0 1,0 1.56,0a0.78,0.78 0 1,0 -1.56,0M633.70,240.35m-0.78,0a0.78,0.78 0 1,0 1.56,0a0.78,0.78 0 1,0 -1.56,0M643.85,240.35m-0.78,0a0.78,0.78 0 1,0 1.56,0a0.78,0.78 0 1,0 -1.56,0" fill="#c81a12"/>
<circle cx="638.2" cy="220.2" r="23.4" fill="none" stroke="#d82222" stroke-width="3.0"/>
<circle cx="638.1" cy="278.3" r="24.9" fill="#000"/>
<path d="M640.68,257.50m-0.80,0a0.80,0.80 0 1,0 1.60,0a0.80,0.80 0 1,0 -1.60,0M642.53,257.50m-0.80,0a0.80,0.80 0 1,0 1.60,0a0.80,0.80 0 1,0 -1.60,0M628.65,259.10m-0.80,0a0.80,0.80 0 1,0 1.60,0a0.80,0.80 0 1,0 -1.60,0M639.75,259.10m-0.80,0a0.80,0.80 0 1,0 1.60,0a0.80,0.80 0 1,0 -1.60,0M641.60,259.10m-0.80,0a0.80,0.80 0 1,0 1.60,0a0.80,0.80 0 1,0 -1.60,0M625.88,260.71m-0.80,0a0.80,0.80 0 1,0 1.60,0a0.80,0.80 0 1,0 -1.60,0M627.73,260.71m-0.80,0a0.80,0.80 0 1,0 1.60,0a0.80,0.80 0 1,0 -1.60,0M640.68,260.71m-0.80,0a0.80,0.80 0 1,0 1.60,0a0.80,0.80 0 1,0 -1.60,0M642.53,260.71m-0.80,0a0.80,0.80 0 1,0 1.60,0a0.80,0.80 0 1,0 -1.60,0M649.93,260.71m-0.80,0a0.80,0.80 0 1,0 1.60,0a0.80,0.80 0 1,0 -1.60,0M624.95,262.31m-0.80,0a0.80,0.80 0 1,0 1.60,0a0.80,0.80 0 1,0 -1.60,0M626.80,262.31m-0.80,0a0.80,0.80 0 1,0 1.60,0a0.80,0.80 0 1,0 -1.60,0M639.75,262.31m-0.80,0a0.80,0.80 0 1,0 1.60,0a0.80,0.80 0 1,0 -1.60,0M641.60,262.31m-0.80,0a0.80,0.80 0 1,0 1.60,0a0.80,0.80 0 1,0 -1.60,0M650.85,262.31m-0.80,0a0.80,0.80 0 1,0 1.60,0a0.80,0.80 0 1,0 -1.60,0M624.03,263.91m-0.80,0a0.80,0.80 0 1,0 1.60,0a0.80,0.80 0 1,0 -1.60,0M625.88,263.91m-0.80,0a0.80,0.80 0 1,0 1.60,0a0.80,0.80 0 1,0 -1.60,0M640.68,263.91m-0.80,0a0.80,0.80 0 1,0 1.60,0a0.80,0.80 0 1,0 -1.60,0M642.53,263.91m-0.80,0a0.80,0.80 0 1,0 1.60,0a0.80,0.80 0 1,0 -1.60,0M653.63,263.91m-0.80,0a0.80,0.80 0 1,0 1.60,0a0.80,0.80 0 1,0 -1.60,0M623.10,265.51m-0.80,0a0.80,0.80 0 1,0 1.60,0a0.80,0.80 0 1,0 -1.60,0M624.95,265.51m-0.80,0a0.80,0.80 0 1,0 1.60,0a0.80,0.80 0 1,0 -1.60,0M630.50,265.51m-0.80,0a0.80,0.80 0 1,0 1.60,0a0.80,0.80 0 1,0 -1.60,0M632.35,265.51m-0.80,0a0.80,0.80 0 1,0 1.60,0a0.80,0.80 0 1,0 -1.60,0M634.20,265.51m-0.80,0a0.80,0.80 0 1,0 1.60,0a0.80,0.80 0 1,0 -1.60,0M654.55,265.51m-0.80,0a0.80,0.80 0 1,0 1.60,0a0.80,0.80 0 1,0 -1.60,0M620.33,267.11m-0.80,0a0.80,0.80 0 1,0 1.60,0a0.80,0.80 0 1,0 -1.60,0M622.18,267.11m-0.80,0a0.80,0.80 0 1,0 1.60,0a0.80,0.80 0 1,0 -1.60,0M624.03,267.11m-0.80,0a0.80,0.80 0 1,0 1.60,0a0.80,0.80 0 1,0 -1.60,0M627.73,267.11m-0.80,0a0.80,0.80 0 1,0 1.60,0a0.80,0.80 0 1,0 -1.60,0M629.58,267.11m-0.80,0a0.80,0.80 0 1,0 1.60,0a0.80,0.80 0 1,0 -1.60,0M631.43,267.11m-0.80,0a0.80,0.80 0 1,0 1.60,0a0.80,0.80 0 1,0 -1.60,0M633.28,267.11m-0.80,0a0.80,0.80 0 1,0 1.60,0a0.80,0.80 0 1,0 -1.60,0M635.13,267.11m-0.80,0a0.80,0.80 0 1,0 1.60,0a0.80,0.80 0 1,0 -1.60,0M651.78,267.11m-0.80,0a0.80,0.80 0 1,0 1.60,0a0.80,0.80 0 1,0 -1.60,0M653.63,267.11m-0.80,0a0.80,0.80 0 1,0 1.60,0a0.80,0.80 0 1,0 -1.60,0M621.25,268.72m-0.80,0a0.80,0.80 0 1,0 1.60,0a0.80,0.80 0 1,0 -1.60,0M628.65,268.72m-0.80,0a0.80,0.80 0 1,0 1.60,0a0.80,0.80 0 1,0 -1.60,0M630.50,268.72m-0.80,0a0.80,0.80 0 1,0 1.60,0a0.80,0.80 0 1,0 -1.60,0M632.35,268.72m-0.80,0a0.80,0.80 0 1,0 1.60,0a0.80,0.80 0 1,0 -1.60,0M634.20,268.72m-0.80,0a0.80,0.80 0 1,0 1.60,0a0.80,0.80 0 1,0 -1.60,0M649.00,268.72m-0.80,0a0.80,0.80 0 1,0 1.60,0a0.80,0.80 0 1,0 -1.60,0M652.70,268.72m-0.80,0a0.80,0.80 0 1,0 1.60,0a0.80,0.80 0 1,0 -1.60,0M633.28,270.32m-0.80,0a0.80,0.80 0 1,0 1.60,0a0.80,0.80 0 1,0 -1.60,0M635.13,270.32m-0.80,0a0.80,0.80 0 1,0 1.60,0a0.80,0.80 0 1,0 -1.60,0M636.98,270.32m-0.80,0a0.80,0.80 0 1,0 1.60,0a0.80,0.80 0 1,0 -1.60,0M649.93,270.32m-0.80,0a0.80,0.80 0 1,0 1.60,0a0.80,0.80 0 1,0 -1.60,0M651.78,270.32m-0.80,0a0.80,0.80 0 1,0 1.60,0a0.80,0.80 0 1,0 -1.60,0M653.63,270.32m-0.80,0a0.80,0.80 0 1,0 1.60,0a0.80,0.80 0 1,0 -1.60,0M619.40,271.92m-0.80,0a0.80,0.80 0 1,0 1.60,0a0.80,0.80 0 1,0 -1.60,0M628.65,271.92m-0.80,0a0.80,0.80 0 1,0 1.60,0a0.80,0.80 0 1,0 -1.60,0M630.50,271.92m-0.80,0a0.80,0.80 0 1,0 1.60,0a0.80,0.80 0 1,0 -1.60,0M634.20,271.92m-0.80,0a0.80,0.80 0 1,0 1.60,0a0.80,0.80 0 1,0 -1.60,0M636.05,271.92m-0.80,0a0.80,0.80 0 1,0 1.60,0a0.80,0.80 0 1,0 -1.60,0M643.45,271.92m-0.80,0a0.80,0.80 0 1,0 1.60,0a0.80,0.80 0 1,0 -1.60,0M649.00,271.92m-0.80,0a0.80,0.80 0 1,0 1.60,0a0.80,0.80 0 1,0 -1.60,0M650.85,271.92m-0.80,0a0.80,0.80 0 1,0 1.60,0a0.80,0.80 0 1,0 -1.60,0M652.70,271.92m-0.80,0a0.80,0.80 0 1,0 1.60,0a0.80,0.80 0 1,0 -1.60,0M654.55,271.92m-0.80,0a0.80,0.80 0 1,0 1.60,0a0.80,0.80 0 1,0 -1.60,0M618.48,273.52m-0.80,0a0.80,0.80 0 1,0 1.60,0a0.80,0.80 0 1,0 -1.60,0M620.33,273.52m-0.80,0a0.80,0.80 0 1,0 1.60,0a0.80,0.80 0 1,0 -1.60,0M627.73,273.52m-0.80,0a0.80,0.80 0 1,0 1.60,0a0.80,0.80 0 1,0 -1.60,0M629.58,273.52m-0.80,0a0.80,0.80 0 1,0 1.60,0a0.80,0.80 0 1,0 -1.60,0M633.28,273.52m-0.80,0a0.80,0.80 0 1,0 1.60,0a0.80,0.80 0 1,0 -1.60,0M635.13,273.52m-0.80,0a0.80,0.80 0 1,0 1.60,0a0.80,0.80 0 1,0 -1.60,0M636.98,273.52m-0.80,0a0.80,0.80 0 1,0 1.60,0a0.80,0.80 0 1,0 -1.60,0M644.38,273.52m-0.80,0a0.80,0.80 0 1,0 1.60,0a0.80,0.80 0 1,0 -1.60,0M646.23,273.52m-0.80,0a0.80,0.80 0 1,0 1.60,0a0.80,0.80 0 1,0 -1.60,0M648.08,273.52m-0.80,0a0.80,0.80 0 1,0 1.60,0a0.80,0.80 0 1,0 -1.60,0M649.93,273.52m-0.80,0a0.80,0.80 0 1,0 1.60,0a0.80,0.80 0 1,0 -1.60,0M651.78,273.52m-0.80,0a0.80,0.80 0 1,0 1.60,0a0.80,0.80 0 1,0 -1.60,0M653.63,273.52m-0.80,0a0.80,0.80 0 1,0 1.60,0a0.80,0.80 0 1,0 -1.60,0M617.55,275.13m-0.80,0a0.80,0.80 0 1,0 1.60,0a0.80,0.80 0 1,0 -1.60,0M621.25,275.13m-0.80,0a0.80,0.80 0 1,0 1.60,0a0.80,0.80 0 1,0 -1.60,0M623.10,275.13m-0.80,0a0.80,0.80 0 1,0 1.60,0a0.80,0.80 0 1,0 -1.60,0M628.65,275.13m-0.80,0a0.80,0.80 0 1,0 1.60,0a0.80,0.80 0 1,0 -1.60,0M630.50,275.13m-0.80,0a0.80,0.80 0 1,0 1.60,0a0.80,0.80 0 1,0 -1.60,0M632.35,275.13m-0.80,0a0.80,0.80 0 1,0 1.60,0a0.80,0.80 0 1,0 -1.60,0M634.20,275.13m-0.80,0a0.80,0.80 0 1,0 1.60,0a0.80,0.80 0 1,0 -1.60,0M636.05,275.13m-0.80,0a0.80,0.80 0 1,0 1.60,0a0.80,0.80 0 1,0 -1.60,0M637.90,275.13m-0.80,0a0.80,0.80 0 1,0 1.60,0a0.80,0.80 0 1,0 -1.60,0M649.00,275.13m-0.80,0a0.80,0.80 0 1,0 1.60,0a0.80,0.80 0 1,0 -1.60,0M652.70,275.13m-0.80,0a0.80,0.80 0 1,0 1.60,0a0.80,0.80 0 1,0 -1.60,0M654.55,275.13m-0.80,0a0.80,0.80 0 1,0 1.60,0a0.80,0.80 0 1,0 -1.60,0M656.40,275.13m-0.80,0a0.80,0.80 0 1,0 1.60,0a0.80,0.80 0 1,0 -1.60,0M620.33,276.73m-0.80,0a0.80,0.80 0 1,0 1.60,0a0.80,0.80 0 1,0 -1.60,0M622.18,276.73m-0.80,0a0.80,0.80 0 1,0 1.60,0a0.80,0.80 0 1,0 -1.60,0M627.73,276.73m-0.80,0a0.80,0.80 0 1,0 1.60,0a0.80,0.80 0 1,0 -1.60,0M629.58,276.73m-0.80,0a0.80,0.80 0 1,0 1.60,0a0.80,0.80 0 1,0 -1.60,0M631.43,276.73m-0.80,0a0.80,0.80 0 1,0 1.60,0a0.80,0.80 0 1,0 -1.60,0M633.28,276.73m-0.80,0a0.80,0.80 0 1,0 1.60,0a0.80,0.80 0 1,0 -1.60,0M636.98,276.73m-0.80,0a0.80,0.80 0 1,0 1.60,0a0.80,0.80 0 1,0 -1.60,0M638.83,276.73m-0.80,0a0.80,0.80 0 1,0 1.60,0a0.80,0.80 0 1,0 -1.60,0M648.08,276.73m-0.80,0a0.80,0.80 0 1,0 1.60,0a0.80,0.80 0 1,0 -1.60,0M651.78,276.73m-0.80,0a0.80,0.80 0 1,0 1.60,0a0.80,0.80 0 1,0 -1.60,0M655.48,276.73m-0.80,0a0.80,0.80 0 1,0 1.60,0a0.80,0.80 0 1,0 -1.60,0M657.33,276.73m-0.80,0a0.80,0.80 0 1,0 1.60,0a0.80,0.80 0 1,0 -1.60,0M621.25,278.33m-0.80,0a0.80,0.80 0 1,0 1.60,0a0.80,0.80 0 1,0 -1.60,0M630.50,278.33m-0.80,0a0.80,0.80 0 1,0 1.60,0a0.80,0.80 0 1,0 -1.60,0M634.20,278.33m-0.80,0a0.80,0.80 0 1,0 1.60,0a0.80,0.80 0 1,0 -1.60,0M636.05,278.33m-0.80,0a0.80,0.80 0 1,0 1.60,0a0.80,0.80 0 1,0 -1.60,0M637.90,278.33m-0.80,0a0.80,0.80 0 1,0 1.60,0a0.80,0.80 0 1,0 -1.60,0M639.75,278.33m-0.80,0a0.80,0.80 0 1,0 1.60,0a0.80,0.80 0 1,0 -1.60,0M649.00,278.33m-0.80,0a0.80,0.80 0 1,0 1.60,0a0.80,0.80 0 1,0 -1.60,0M650.85,278.33m-0.80,0a0.80,0.80 0 1,0 1.60,0a0.80,0.80 0 1,0 -1.60,0M652.70,278.33m-0.80,0a0.80,0.80 0 1,0 1.60,0a0.80,0.80 0 1,0 -1.60,0M654.55,278.33m-0.80,0a0.80,0.80 0 1,0 1.60,0a0.80,0.80 0 1,0 -1.60,0M656.40,278.33m-0.80,0a0.80,0.80 0 1,0 1.60,0a0.80,0.80 0 1,0 -1.60,0M627.73,279.93m-0.80,0a0.80,0.80 0 1,0 1.60,0a0.80,0.80 0 1,0 -1.60,0M631.43,279.93m-0.80,0a0.80,0.80 0 1,0 1.60,0a0.80,0.80 0 1,0 -1.60,0M633.28,279.93m-0.80,0a0.80,0.80 0 1,0 1.60,0a0.80,0.80 0 1,0 -1.60,0M635.13,279.93m-0.80,0a0.80,0.80 0 1,0 1.60,0a0.80,0.80 0 1,0 -1.60,0M638.83,279.93m-0.80,0a0.80,0.80 0 1,0 1.60,0a0.80,0.80 0 1,0 -1.60,0M649.93,279.93m-0.80,0a0.80,0.80 0 1,0 1.60,0a0.80,0.80 0 1,0 -1.60,0M651.78,279.93m-0.80,0a0.80,0.80 0 1,0 1.60,0a0.80,0.80 0 1,0 -1.60,0M653.63,279.93m-0.80,0a0.80,0.80 0 1,0 1.60,0a0.80,0.80 0 1,0 -1.60,0M655.48,279.93m-0.80,0a0.80,0.80 0 1,0 1.60,0a0.80,0.80 0 1,0 -1.60,0M626.80,281.53m-0.80,0a0.80,0.80 0 1,0 1.60,0a0.80,0.80 0 1,0 -1.60,0M628.65,281.53m-0.80,0a0.80,0.80 0 1,0 1.60,0a0.80,0.80 0 1,0 -1.60,0M630.50,281.53m-0.80,0a0.80,0.80 0 1,0 1.60,0a0.80,0.80 0 1,0 -1.60,0M632.35,281.53m-0.80,0a0.80,0.80 0 1,0 1.60,0a0.80,0.80 0 1,0 -1.60,0M634.20,281.53m-0.80,0a0.80,0.80 0 1,0 1.60,0a0.80,0.80 0 1,0 -1.60,0M636.05,281.53m-0.80,0a0.80,0.80 0 1,0 1.60,0a0.80,0.80 0 1,0 -1.60,0M637.90,281.53m-0.80,0a0.80,0.80 0 1,0 1.60,0a0.80,0.80 0 1,0 -1.60,0M649.00,281.53m-0.80,0a0.80,0.80 0 1,0 1.60,0a0.80,0.80 0 1,0 -1.60,0M650.85,281.53m-0.80,0a0.80,0.80 0 1,0 1.60,0a0.80,0.80 0 1,0 -1.60,0M652.70,281.53m-0.80,0a0.80,0.80 0 1,0 1.60,0a0.80,0.80 0 1,0 -1.60,0M654.55,281.53m-0.80,0a0.80,0.80 0 1,0 1.60,0a0.80,0.80 0 1,0 -1.60,0M656.40,281.53m-0.80,0a0.80,0.80 0 1,0 1.60,0a0.80,0.80 0 1,0 -1.60,0M627.73,283.14m-0.80,0a0.80,0.80 0 1,0 1.60,0a0.80,0.80 0 1,0 -1.60,0M629.58,283.14m-0.80,0a0.80,0.80 0 1,0 1.60,0a0.80,0.80 0 1,0 -1.60,0M635.13,283.14m-0.80,0a0.80,0.80 0 1,0 1.60,0a0.80,0.80 0 1,0 -1.60,0M636.98,283.14m-0.80,0a0.80,0.80 0 1,0 1.60,0a0.80,0.80 0 1,0 -1.60,0M638.83,283.14m-0.80,0a0.80,0.80 0 1,0 1.60,0a0.80,0.80 0 1,0 -1.60,0M648.08,283.14m-0.80,0a0.80,0.80 0 1,0 1.60,0a0.80,0.80 0 1,0 -1.60,0M649.93,283.14m-0.80,0a0.80,0.80 0 1,0 1.60,0a0.80,0.80 0 1,0 -1.60,0M651.78,283.14m-0.80,0a0.80,0.80 0 1,0 1.60,0a0.80,0.80 0 1,0 -1.60,0M653.63,283.14m-0.80,0a0.80,0.80 0 1,0 1.60,0a0.80,0.80 0 1,0 -1.60,0M655.48,283.14m-0.80,0a0.80,0.80 0 1,0 1.60,0a0.80,0.80 0 1,0 -1.60,0M657.33,283.14m-0.80,0a0.80,0.80 0 1,0 1.60,0a0.80,0.80 0 1,0 -1.60,0M659.18,283.14m-0.80,0a0.80,0.80 0 1,0 1.60,0a0.80,0.80 0 1,0 -1.60,0M626.80,284.74m-0.80,0a0.80,0.80 0 1,0 1.60,0a0.80,0.80 0 1,0 -1.60,0M628.65,284.74m-0.80,0a0.80,0.80 0 1,0 1.60,0a0.80,0.80 0 1,0 -1.60,0M630.50,284.74m-0.80,0a0.80,0.80 0 1,0 1.60,0a0.80,0.80 0 1,0 -1.60,0M634.20,284.74m-0.80,0a0.80,0.80 0 1,0 1.60,0a0.80,0.80 0 1,0 -1.60,0M636.05,284.74m-0.80,0a0.80,0.80 0 1,0 1.60,0a0.80,0.80 0 1,0 -1.60,0M637.90,284.74m-0.80,0a0.80,0.80 0 1,0 1.60,0a0.80,0.80 0 1,0 -1.60,0M639.75,284.74m-0.80,0a0.80,0.80 0 1,0 1.60,0a0.80,0.80 0 1,0 -1.60,0M649.00,284.74m-0.80,0a0.80,0.80 0 1,0 1.60,0a0.80,0.80 0 1,0 -1.60,0M650.85,284.74m-0.80,0a0.80,0.80 0 1,0 1.60,0a0.80,0.80 0 1,0 -1.60,0M652.70,284.74m-0.80,0a0.80,0.80 0 1,0 1.60,0a0.80,0.80 0 1,0 -1.60,0M654.55,284.74m-0.80,0a0.80,0.80 0 1,0 1.60,0a0.80,0.80 0 1,0 -1.60,0M636.98,286.34m-0.80,0a0.80,0.80 0 1,0 1.60,0a0.80,0.80 0 1,0 -1.60,0M638.83,286.34m-0.80,0a0.80,0.80 0 1,0 1.60,0a0.80,0.80 0 1,0 -1.60,0M640.68,286.34m-0.80,0a0.80,0.80 0 1,0 1.60,0a0.80,0.80 0 1,0 -1.60,0M651.78,286.34m-0.80,0a0.80,0.80 0 1,0 1.60,0a0.80,0.80 0 1,0 -1.60,0M653.63,286.34m-0.80,0a0.80,0.80 0 1,0 1.60,0a0.80,0.80 0 1,0 -1.60,0M655.48,286.34m-0.80,0a0.80,0.80 0 1,0 1.60,0a0.80,0.80 0 1,0 -1.60,0M628.65,287.94m-0.80,0a0.80,0.80 0 1,0 1.60,0a0.80,0.80 0 1,0 -1.60,0M652.70,287.94m-0.80,0a0.80,0.80 0 1,0 1.60,0a0.80,0.80 0 1,0 -1.60,0M646.23,289.54m-0.80,0a0.80,0.80 0 1,0 1.60,0a0.80,0.80 0 1,0 -1.60,0M643.45,291.15m-0.80,0a0.80,0.80 0 1,0 1.60,0a0.80,0.80 0 1,0 -1.60,0M645.30,291.15m-0.80,0a0.80,0.80 0 1,0 1.60,0a0.80,0.80 0 1,0 -1.60,0M647.15,291.15m-0.80,0a0.80,0.80 0 1,0 1.60,0a0.80,0.80 0 1,0 -1.60,0M650.85,291.15m-0.80,0a0.80,0.80 0 1,0 1.60,0a0.80,0.80 0 1,0 -1.60,0M633.28,292.75m-0.80,0a0.80,0.80 0 1,0 1.60,0a0.80,0.80 0 1,0 -1.60,0M635.13,292.75m-0.80,0a0.80,0.80 0 1,0 1.60,0a0.80,0.80 0 1,0 -1.60,0M644.38,292.75m-0.80,0a0.80,0.80 0 1,0 1.60,0a0.80,0.80 0 1,0 -1.60,0M646.23,292.75m-0.80,0a0.80,0.80 0 1,0 1.60,0a0.80,0.80 0 1,0 -1.60,0M648.08,292.75m-0.80,0a0.80,0.80 0 1,0 1.60,0a0.80,0.80 0 1,0 -1.60,0M630.50,294.35m-0.80,0a0.80,0.80 0 1,0 1.60,0a0.80,0.80 0 1,0 -1.60,0M632.35,294.35m-0.80,0a0.80,0.80 0 1,0 1.60,0a0.80,0.80 0 1,0 -1.60,0M634.20,294.35m-0.80,0a0.80,0.80 0 1,0 1.60,0a0.80,0.80 0 1,0 -1.60,0M636.05,294.35m-0.80,0a0.80,0.80 0 1,0 1.60,0a0.80,0.80 0 1,0 -1.60,0M641.60,294.35m-0.80,0a0.80,0.80 0 1,0 1.60,0a0.80,0.80 0 1,0 -1.60,0M643.45,294.35m-0.80,0a0.80,0.80 0 1,0 1.60,0a0.80,0.80 0 1,0 -1.60,0M645.30,294.35m-0.80,0a0.80,0.80 0 1,0 1.60,0a0.80,0.80 0 1,0 -1.60,0M647.15,294.35m-0.80,0a0.80,0.80 0 1,0 1.60,0a0.80,0.80 0 1,0 -1.60,0M649.00,294.35m-0.80,0a0.80,0.80 0 1,0 1.60,0a0.80,0.80 0 1,0 -1.60,0M631.43,295.95m-0.80,0a0.80,0.80 0 1,0 1.60,0a0.80,0.80 0 1,0 -1.60,0M636.98,295.95m-0.80,0a0.80,0.80 0 1,0 1.60,0a0.80,0.80 0 1,0 -1.60,0M644.38,295.95m-0.80,0a0.80,0.80 0 1,0 1.60,0a0.80,0.80 0 1,0 -1.60,0M646.23,295.95m-0.80,0a0.80,0.80 0 1,0 1.60,0a0.80,0.80 0 1,0 -1.60,0M648.08,295.95m-0.80,0a0.80,0.80 0 1,0 1.60,0a0.80,0.80 0 1,0 -1.60,0M649.93,295.95m-0.80,0a0.80,0.80 0 1,0 1.60,0a0.80,0.80 0 1,0 -1.60,0M630.50,297.55m-0.80,0a0.80,0.80 0 1,0 1.60,0a0.80,0.80 0 1,0 -1.60,0M641.60,297.55m-0.80,0a0.80,0.80 0 1,0 1.60,0a0.80,0.80 0 1,0 -1.60,0M643.45,297.55m-0.80,0a0.80,0.80 0 1,0 1.60,0a0.80,0.80 0 1,0 -1.60,0M645.30,297.55m-0.80,0a0.80,0.80 0 1,0 1.60,0a0.80,0.80 0 1,0 -1.60,0M642.53,299.16m-0.80,0a0.80,0.80 0 1,0 1.60,0a0.80,0.80 0 1,0 -1.60,0" fill="#d42014"/>
<circle cx="638.1" cy="278.3" r="22.3" fill="none" stroke="#fff" stroke-width="0.8"/>
<circle cx="638.1" cy="278.3" r="23.8" fill="none" stroke="#3c7cba" stroke-width="2.3"/>
</svg></body></html>
